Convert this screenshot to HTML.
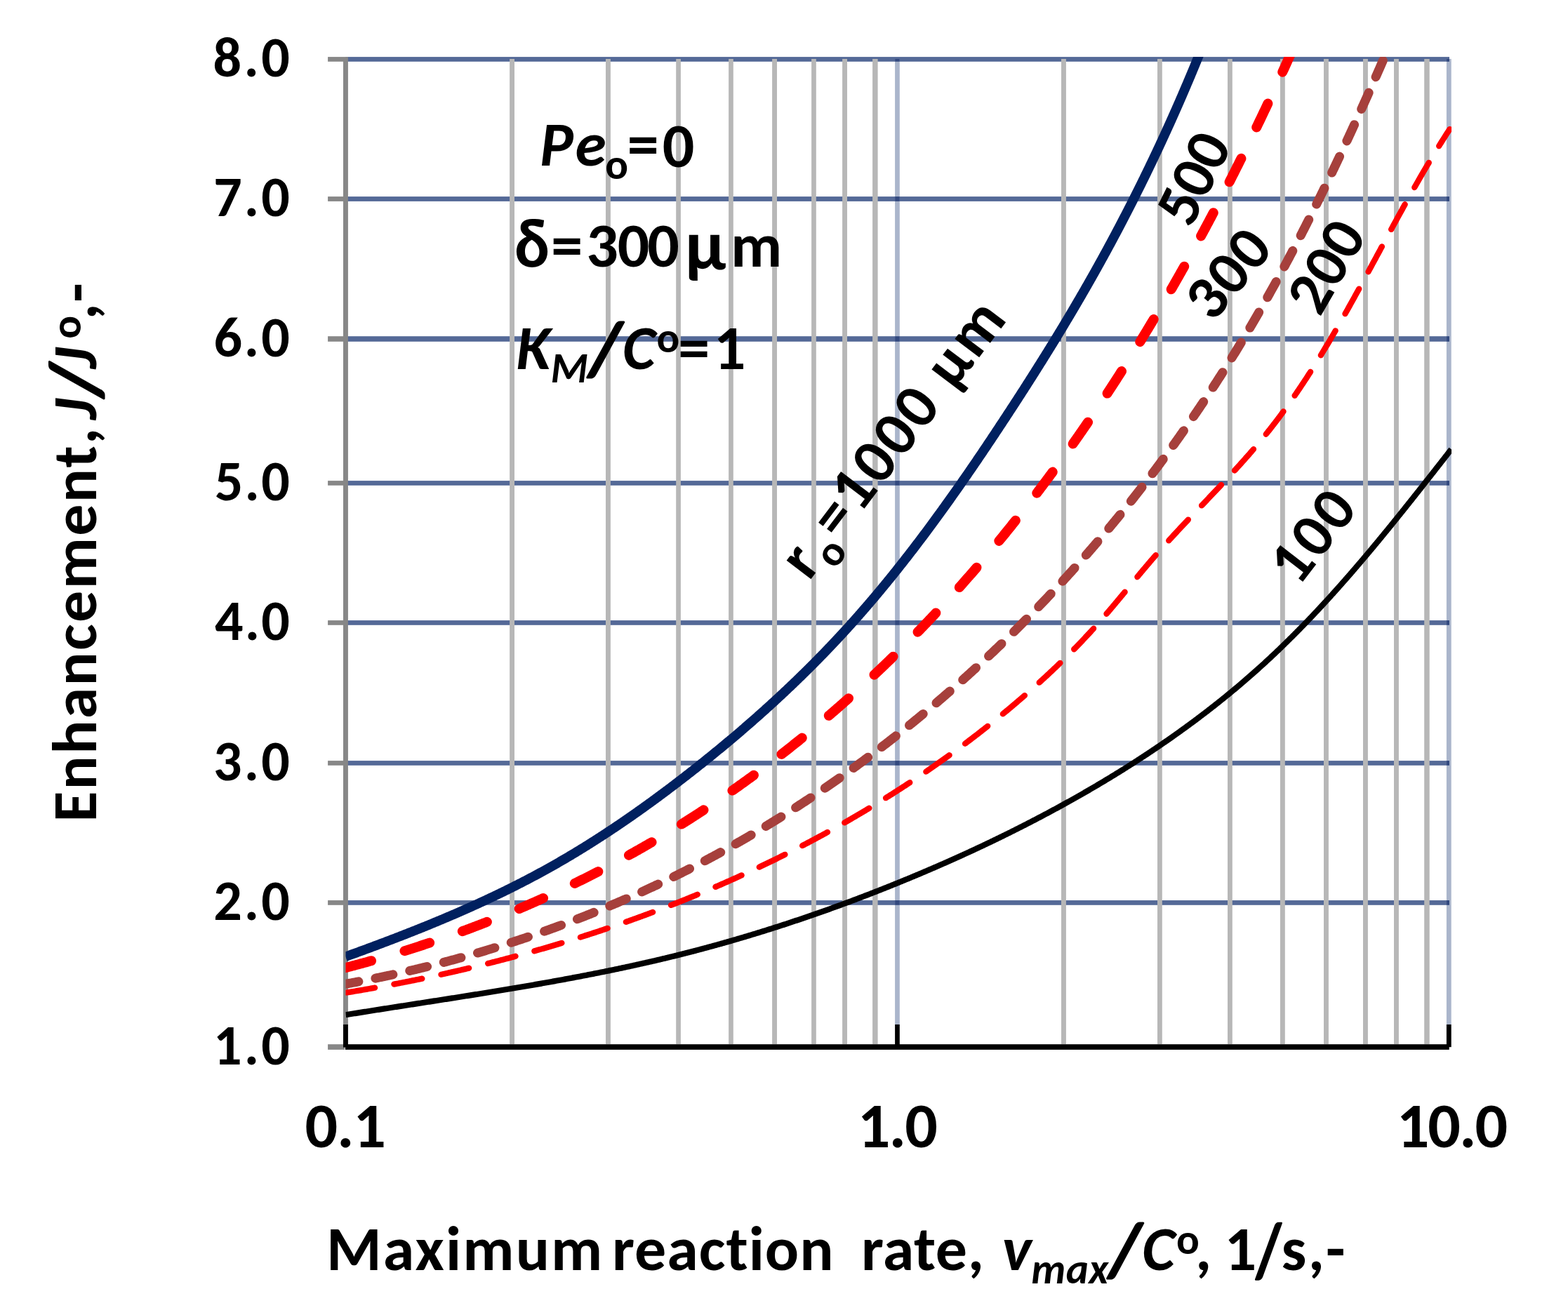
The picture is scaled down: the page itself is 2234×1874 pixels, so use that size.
<!DOCTYPE html><html><head><meta charset="utf-8"><title>Enhancement chart</title>
<style>html,body{margin:0;padding:0;background:#fff;overflow:hidden}svg{display:block}text{font-family:Carlito, 'Liberation Sans', sans-serif;font-weight:bold;fill:#000}</style></head><body>
<svg xmlns="http://www.w3.org/2000/svg" width="2234" height="1874" viewBox="0 0 2234 1874">
<rect width="2234" height="1874" fill="#fff"/>
<defs><clipPath id="pc"><rect x="492.5" y="81.1" width="1575.5" height="1410.9"/></clipPath></defs>
<g id="grid">
<rect x="492.5" y="81.10" width="1572.5" height="6.70" fill="#546997"/>
<rect x="467.1" y="81.10" width="21.9" height="6.70" fill="#878787"/>
<rect x="492.5" y="280.10" width="1572.5" height="6.80" fill="#546997"/>
<rect x="467.1" y="280.10" width="21.9" height="6.80" fill="#878787"/>
<rect x="492.5" y="479.20" width="1572.5" height="7.60" fill="#546997"/>
<rect x="467.1" y="479.20" width="21.9" height="7.60" fill="#878787"/>
<rect x="492.5" y="685.10" width="1572.5" height="6.70" fill="#546997"/>
<rect x="467.1" y="685.10" width="21.9" height="6.70" fill="#878787"/>
<rect x="492.5" y="884.10" width="1572.5" height="6.70" fill="#546997"/>
<rect x="467.1" y="884.10" width="21.9" height="6.70" fill="#878787"/>
<rect x="492.5" y="1084.10" width="1572.5" height="6.70" fill="#546997"/>
<rect x="467.1" y="1084.10" width="21.9" height="6.70" fill="#878787"/>
<rect x="492.5" y="1283.05" width="1572.5" height="6.75" fill="#546997"/>
<rect x="467.1" y="1283.05" width="21.9" height="6.75" fill="#878787"/>
<rect x="467.1" y="1488.20" width="23.9" height="7.70" fill="#878787"/>
<rect x="726.10" y="84" width="6.90" height="1404.2" fill="#b7b7b7"/>
<rect x="863.00" y="84" width="6.90" height="1404.2" fill="#b7b7b7"/>
<rect x="963.20" y="84" width="6.70" height="1404.2" fill="#b7b7b7"/>
<rect x="1038.10" y="84" width="6.70" height="1404.2" fill="#b7b7b7"/>
<rect x="1100.10" y="84" width="6.90" height="1404.2" fill="#b7b7b7"/>
<rect x="1156.10" y="84" width="6.70" height="1404.2" fill="#b7b7b7"/>
<rect x="1200.10" y="84" width="6.90" height="1404.2" fill="#b7b7b7"/>
<rect x="1243.10" y="84" width="7.50" height="1404.2" fill="#b7b7b7"/>
<rect x="1512.00" y="84" width="6.90" height="1404.2" fill="#b7b7b7"/>
<rect x="1649.00" y="84" width="6.80" height="1404.2" fill="#b7b7b7"/>
<rect x="1749.00" y="84" width="6.80" height="1404.2" fill="#b7b7b7"/>
<rect x="1823.90" y="84" width="6.90" height="1404.2" fill="#b7b7b7"/>
<rect x="1886.00" y="84" width="6.90" height="1404.2" fill="#b7b7b7"/>
<rect x="1942.00" y="84" width="6.90" height="1404.2" fill="#b7b7b7"/>
<rect x="1986.00" y="84" width="6.90" height="1404.2" fill="#b7b7b7"/>
<rect x="2029.20" y="84" width="7.50" height="1404.2" fill="#b7b7b7"/>
<rect x="1275.10" y="84" width="6.70" height="1376.0" fill="#aab5cb"/>
<rect x="1275.10" y="84.00" width="6.70" height="3.80" fill="#32497f"/>
<rect x="1275.10" y="280.10" width="6.70" height="6.80" fill="#32497f"/>
<rect x="1275.10" y="479.20" width="6.70" height="7.60" fill="#32497f"/>
<rect x="1275.10" y="685.10" width="6.70" height="6.70" fill="#32497f"/>
<rect x="1275.10" y="884.10" width="6.70" height="6.70" fill="#32497f"/>
<rect x="1275.10" y="1084.10" width="6.70" height="6.70" fill="#32497f"/>
<rect x="1275.10" y="1283.05" width="6.70" height="6.75" fill="#32497f"/>
<rect x="1275.10" y="1460" width="6.70" height="32.2" fill="#000"/>
<rect x="2060.90" y="84" width="6.80" height="1376.0" fill="#aab5cb"/>
<rect x="2060.90" y="84.00" width="4.10" height="3.80" fill="#32497f"/>
<rect x="2060.90" y="280.10" width="4.10" height="6.80" fill="#32497f"/>
<rect x="2060.90" y="479.20" width="4.10" height="7.60" fill="#32497f"/>
<rect x="2060.90" y="685.10" width="4.10" height="6.70" fill="#32497f"/>
<rect x="2060.90" y="884.10" width="4.10" height="6.70" fill="#32497f"/>
<rect x="2060.90" y="1084.10" width="4.10" height="6.70" fill="#32497f"/>
<rect x="2060.90" y="1283.05" width="4.10" height="6.75" fill="#32497f"/>
<rect x="2060.90" y="1460" width="6.80" height="32.2" fill="#000"/>
<rect x="489.00" y="81.1" width="6.90" height="1378.9" fill="#878787"/>
<rect x="489.00" y="1460" width="6.90" height="32.6" fill="#000"/>
<rect x="491.9" y="1488.20" width="1572.8" height="7.70" fill="#000"/>
</g>
<g clip-path="url(#pc)" fill="none">
<path d="M492.34 1363.33L493.79 1362.81L495.24 1362.28L496.69 1361.76L498.14 1361.23L499.59 1360.71L501.04 1360.18L502.49 1359.65L503.94 1359.12L505.39 1358.60L506.84 1358.07L508.29 1357.54L509.74 1357.01L511.19 1356.48L512.64 1355.95L514.09 1355.41L515.54 1354.88L516.99 1354.35L518.44 1353.82L519.89 1353.28L521.34 1352.75L522.79 1352.21L524.24 1351.67L525.68 1351.14L527.13 1350.60L528.58 1350.06L530.03 1349.52L531.48 1348.98L532.93 1348.44L534.37 1347.90L535.82 1347.36L537.27 1346.82L538.71 1346.28L540.16 1345.73L541.61 1345.19L543.05 1344.65L544.50 1344.10L545.95 1343.55L547.39 1343.01L548.84 1342.46L550.28 1341.91L551.73 1341.36L553.17 1340.81L554.62 1340.26L556.06 1339.71L557.51 1339.16L558.95 1338.61L560.39 1338.05L561.84 1337.50L563.28 1336.94L564.72 1336.39L566.16 1335.83L567.61 1335.27L569.05 1334.71L570.49 1334.15L571.93 1333.59L573.37 1333.03L574.81 1332.47L576.25 1331.91L577.69 1331.35L579.13 1330.78L580.57 1330.22L582.01 1329.65L583.45 1329.08L584.89 1328.52L586.33 1327.95L587.76 1327.38L589.20 1326.81L590.64 1326.24L592.08 1325.66L593.51 1325.09L594.95 1324.52L596.38 1323.94L597.82 1323.37L599.25 1322.79L600.69 1322.21L602.12 1321.63L603.56 1321.05L604.99 1320.47L606.42 1319.89L607.85 1319.31L609.29 1318.72L610.72 1318.14L612.15 1317.55L613.58 1316.97L615.01 1316.38L616.44 1315.79L617.87 1315.20L619.30 1314.61L620.73 1314.02L622.15 1313.43L623.58 1312.83L625.01 1312.24L626.44 1311.64L627.86 1311.05L629.29 1310.45L630.71 1309.85L632.14 1309.25L633.56 1308.65L634.99 1308.05L636.41 1307.44L637.83 1306.84L639.25 1306.23L640.68 1305.63L642.10 1305.02L643.52 1304.41L644.94 1303.80L646.36 1303.19L647.78 1302.58L649.20 1301.96L650.61 1301.35L652.03 1300.73L653.45 1300.12L654.86 1299.50L656.28 1298.88L657.70 1298.26L659.11 1297.64L660.52 1297.02L661.94 1296.39L663.35 1295.77L664.76 1295.14L666.17 1294.51L667.59 1293.89L669.00 1293.26L670.41 1292.62L671.82 1291.99L673.22 1291.36L674.63 1290.72L676.04 1290.09L677.45 1289.45L678.85 1288.81L680.26 1288.17L681.66 1287.53L683.07 1286.89L684.47 1286.24L685.87 1285.60L687.28 1284.95L688.68 1284.30L690.08 1283.66L691.48 1283.00L692.88 1282.35L694.28 1281.70L695.68 1281.05L697.07 1280.39L698.47 1279.73L699.87 1279.07L701.26 1278.42L702.66 1277.75L704.05 1277.09L705.44 1276.43L706.84 1275.76L708.23 1275.10L709.62 1274.43L711.01 1273.76L712.40 1273.09L713.79 1272.41L715.18 1271.74L716.56 1271.07L717.95 1270.39L719.34 1269.71L720.72 1269.03L722.11 1268.35L723.49 1267.67L724.87 1266.98L726.25 1266.30L727.64 1265.61L729.02 1264.92L730.40 1264.23L731.77 1263.54L733.15 1262.85L734.53 1262.16L735.91 1261.46L737.28 1260.76L738.66 1260.06L740.03 1259.36L741.40 1258.66L742.78 1257.96L744.15 1257.25L745.52 1256.55L746.89 1255.84L748.26 1255.13L749.62 1254.42L750.99 1253.71L752.36 1252.99L753.72 1252.28L755.09 1251.56L756.45 1250.84L757.81 1250.12L759.17 1249.40L760.53 1248.67L761.89 1247.95L763.25 1247.22L764.61 1246.49L765.97 1245.76L767.33 1245.03L768.68 1244.29L770.04 1243.56L771.39 1242.82L772.74 1242.08L774.09 1241.34L775.44 1240.60L776.79 1239.86L778.14 1239.11L779.49 1238.36L780.84 1237.61L782.18 1236.86L783.53 1236.11L784.87 1235.36L786.21 1234.60L787.56 1233.84L788.90 1233.08L790.24 1232.32L791.58 1231.56L792.91 1230.80L794.25 1230.03L795.59 1229.26L796.92 1228.49L798.26 1227.72L799.59 1226.95L800.92 1226.18L802.25 1225.40L803.59 1224.62L804.91 1223.85L806.24 1223.07L807.57 1222.28L808.90 1221.50L810.22 1220.71L811.55 1219.93L812.87 1219.14L814.20 1218.35L815.52 1217.56L816.84 1216.76L818.16 1215.97L819.48 1215.17L820.80 1214.38L822.12 1213.58L823.43 1212.78L824.75 1211.97L826.06 1211.17L827.38 1210.36L828.69 1209.56L830.00 1208.75L831.32 1207.94L832.63 1207.13L833.94 1206.31L835.25 1205.50L836.55 1204.68L837.86 1203.87L839.17 1203.05L840.47 1202.23L841.78 1201.40L843.08 1200.58L844.38 1199.76L845.68 1198.93L846.99 1198.10L848.29 1197.27L849.58 1196.44L850.88 1195.61L852.18 1194.78L853.48 1193.94L854.77 1193.11L856.07 1192.27L857.36 1191.43L858.66 1190.59L859.95 1189.75L861.24 1188.90L862.53 1188.06L863.82 1187.21L865.11 1186.36L866.40 1185.52L867.68 1184.67L868.97 1183.81L870.26 1182.96L871.54 1182.11L872.83 1181.25L874.11 1180.39L875.39 1179.54L876.67 1178.68L877.95 1177.82L879.23 1176.95L880.51 1176.09L881.79 1175.23L883.07 1174.36L884.34 1173.49L885.62 1172.62L886.90 1171.75L888.17 1170.88L889.44 1170.01L890.72 1169.14L891.99 1168.26L893.26 1167.38L894.53 1166.51L895.80 1165.63L897.07 1164.75L898.34 1163.87L899.60 1162.98L900.87 1162.10L902.13 1161.22L903.40 1160.33L904.66 1159.44L905.93 1158.55L907.19 1157.66L908.45 1156.77L909.71 1155.88L910.97 1154.99L912.23 1154.09L913.49 1153.20L914.75 1152.30L916.01 1151.40L917.26 1150.50L918.52 1149.60L919.77 1148.70L921.03 1147.80L922.28 1146.89L923.53 1145.99L924.78 1145.08L926.04 1144.18L927.29 1143.27L928.54 1142.36L929.78 1141.45L931.03 1140.54L932.28 1139.62L933.53 1138.71L934.77 1137.80L936.02 1136.88L937.26 1135.96L938.51 1135.04L939.75 1134.13L940.99 1133.20L942.23 1132.28L943.47 1131.36L944.71 1130.44L945.95 1129.51L947.19 1128.59L948.43 1127.66L949.67 1126.73L950.91 1125.81L952.14 1124.88L953.38 1123.95L954.61 1123.01L955.85 1122.08L957.08 1121.15L958.31 1120.21L959.54 1119.28L960.77 1118.34L962.01 1117.40L963.24 1116.47L964.46 1115.53L965.69 1114.59L966.92 1113.65L968.15 1112.70L969.37 1111.76L970.60 1110.82L971.83 1109.87L973.05 1108.93L974.27 1107.98L975.50 1107.03L976.72 1106.08L977.94 1105.13L979.16 1104.18L980.38 1103.23L981.60 1102.28L982.82 1101.33L984.04 1100.37L985.26 1099.42L986.48 1098.46L987.69 1097.51L988.91 1096.55L990.12 1095.59L991.34 1094.63L992.55 1093.67L993.77 1092.71L994.98 1091.75L996.19 1090.79L997.40 1089.82L998.61 1088.86L999.82 1087.89L1001.03 1086.93L1002.24 1085.96L1003.45 1084.99L1004.66 1084.02L1005.86 1083.05L1007.07 1082.08L1008.27 1081.11L1009.48 1080.14L1010.68 1079.17L1011.88 1078.19L1013.09 1077.22L1014.29 1076.24L1015.49 1075.26L1016.69 1074.29L1017.89 1073.31L1019.09 1072.33L1020.29 1071.35L1021.48 1070.37L1022.68 1069.39L1023.88 1068.40L1025.07 1067.42L1026.27 1066.43L1027.46 1065.45L1028.65 1064.46L1029.84 1063.47L1031.04 1062.49L1032.23 1061.50L1033.42 1060.51L1034.61 1059.52L1035.79 1058.52L1036.98 1057.53L1038.17 1056.54L1039.35 1055.54L1040.54 1054.55L1041.72 1053.55L1042.91 1052.55L1044.09 1051.56L1045.27 1050.56L1046.46 1049.56L1047.64 1048.56L1048.82 1047.55L1049.99 1046.55L1051.17 1045.55L1052.35 1044.54L1053.53 1043.54L1054.70 1042.53L1055.88 1041.52L1057.05 1040.51L1058.23 1039.51L1059.40 1038.50L1060.57 1037.48L1061.74 1036.47L1062.91 1035.46L1064.08 1034.45L1065.25 1033.43L1066.42 1032.42L1067.58 1031.40L1068.75 1030.38L1069.91 1029.36L1071.08 1028.34L1072.24 1027.32L1073.40 1026.30L1074.57 1025.28L1075.73 1024.26L1076.89 1023.23L1078.04 1022.21L1079.20 1021.18L1080.36 1020.15L1081.52 1019.13L1082.67 1018.10L1083.83 1017.07L1084.98 1016.04L1086.13 1015.01L1087.29 1013.97L1088.44 1012.94L1089.59 1011.91L1090.74 1010.87L1091.88 1009.83L1093.03 1008.80L1094.18 1007.76L1095.32 1006.72L1096.47 1005.68L1097.61 1004.64L1098.76 1003.60L1099.90 1002.55L1101.04 1001.51L1102.18 1000.47L1103.32 999.42L1104.46 998.37L1105.59 997.33L1106.73 996.28L1107.87 995.23L1109.00 994.18L1110.13 993.12L1111.27 992.07L1112.40 991.02L1113.53 989.96L1114.66 988.91L1115.79 987.85L1116.92 986.80L1118.04 985.74L1119.17 984.68L1120.29 983.62L1121.42 982.56L1122.54 981.49L1123.66 980.43L1124.78 979.37L1125.90 978.30L1127.02 977.24L1128.14 976.17L1129.26 975.10L1130.37 974.03L1131.49 972.96L1132.60 971.89L1133.72 970.82L1134.83 969.75L1135.94 968.67L1137.05 967.60L1138.16 966.52L1139.27 965.45L1140.37 964.37L1141.48 963.29L1142.59 962.21L1143.69 961.13L1144.79 960.05L1145.89 958.96L1146.99 957.88L1148.09 956.80L1149.19 955.71L1150.29 954.62L1151.39 953.54L1152.48 952.45L1153.58 951.36L1154.67 950.27L1155.76 949.18L1156.85 948.08L1157.94 946.99L1159.03 945.89L1160.12 944.80L1161.21 943.70L1162.29 942.60L1163.38 941.51L1164.46 940.41L1165.55 939.31L1166.63 938.20L1167.71 937.10L1168.79 936.00L1169.86 934.89L1170.94 933.79L1172.02 932.68L1173.09 931.57L1174.17 930.46L1175.24 929.35L1176.31 928.24L1177.38 927.13L1178.45 926.02L1179.52 924.90L1180.59 923.79L1181.65 922.67L1182.72 921.56L1183.78 920.44L1184.84 919.32L1185.90 918.20L1186.96 917.08L1188.02 915.96L1189.08 914.83L1190.14 913.71L1191.19 912.59L1192.25 911.46L1193.30 910.33L1194.35 909.20L1195.40 908.08L1196.45 906.95L1197.50 905.81L1198.55 904.68L1199.60 903.55L1200.64 902.41L1201.68 901.28L1202.73 900.14L1203.77 899.01L1204.81 897.87L1205.85 896.73L1206.89 895.59L1207.92 894.45L1208.96 893.30L1209.99 892.16L1211.03 891.01L1212.06 889.87L1213.09 888.72L1214.12 887.57L1215.15 886.43L1216.17 885.28L1217.20 884.13L1218.22 882.97L1219.25 881.82L1220.27 880.67L1221.29 879.51L1222.31 878.36L1223.33 877.20L1224.35 876.04L1225.37 874.89L1226.38 873.73L1227.40 872.57L1228.41 871.40L1229.42 870.24L1230.44 869.08L1231.45 867.91L1232.46 866.75L1233.46 865.58L1234.47 864.42L1235.48 863.25L1236.48 862.08L1237.49 860.91L1238.49 859.74L1239.49 858.57L1240.49 857.39L1241.49 856.22L1242.49 855.05L1243.49 853.87L1244.48 852.70L1245.48 851.52L1246.47 850.34L1247.47 849.16L1248.46 847.98L1249.45 846.80L1250.44 845.62L1251.43 844.44L1252.42 843.25L1253.40 842.07L1254.39 840.88L1255.37 839.70L1256.36 838.51L1257.34 837.32L1258.32 836.13L1259.30 834.95L1260.28 833.76L1261.26 832.56L1262.24 831.37L1263.22 830.18L1264.19 828.99L1265.17 827.79L1266.14 826.60L1267.11 825.40L1268.08 824.20L1269.06 823.00L1270.03 821.81L1270.99 820.61L1271.96 819.41L1272.93 818.21L1273.89 817.00L1274.86 815.80L1275.82 814.60L1276.79 813.39L1277.75 812.19L1278.71 810.98L1279.67 809.78L1280.63 808.57L1281.59 807.36L1282.55 806.15L1283.50 804.94L1284.46 803.73L1285.41 802.52L1286.37 801.31L1287.32 800.10L1288.27 798.88L1289.22 797.67L1290.17 796.45L1291.12 795.24L1292.07 794.02L1293.02 792.80L1293.96 791.58L1294.91 790.37L1295.86 789.15L1296.80 787.93L1297.74 786.71L1298.68 785.48L1299.63 784.26L1300.57 783.04L1301.51 781.81L1302.44 780.59L1303.38 779.36L1304.32 778.14L1305.26 776.91L1306.19 775.69L1307.13 774.46L1308.06 773.23L1308.99 772.00L1309.92 770.77L1310.85 769.54L1311.78 768.31L1312.71 767.07L1313.64 765.84L1314.57 764.61L1315.50 763.37L1316.42 762.14L1317.35 760.90L1318.27 759.67L1319.20 758.43L1320.12 757.19L1321.04 755.96L1321.96 754.72L1322.88 753.48L1323.80 752.24L1324.72 751.00L1325.64 749.76L1326.56 748.52L1327.48 747.27L1328.39 746.03L1329.31 744.79L1330.22 743.54L1331.14 742.30L1332.05 741.05L1332.96 739.81L1333.87 738.56L1334.78 737.31L1335.69 736.07L1336.60 734.82L1337.51 733.57L1338.42 732.32L1339.32 731.07L1340.23 729.82L1341.14 728.57L1342.04 727.32L1342.95 726.06L1343.85 724.81L1344.75 723.56L1345.65 722.30L1346.55 721.05L1347.46 719.79L1348.35 718.54L1349.25 717.28L1350.15 716.03L1351.05 714.77L1351.95 713.51L1352.84 712.25L1353.74 710.99L1354.63 709.73L1355.53 708.47L1356.42 707.21L1357.32 705.95L1358.21 704.69L1359.10 703.43L1359.99 702.17L1360.88 700.90L1361.77 699.64L1362.66 698.38L1363.55 697.11L1364.44 695.85L1365.33 694.58L1366.21 693.32L1367.10 692.05L1367.98 690.78L1368.87 689.52L1369.75 688.25L1370.64 686.98L1371.52 685.71L1372.40 684.44L1373.28 683.17L1374.16 681.91L1375.05 680.63L1375.93 679.36L1376.80 678.09L1377.68 676.82L1378.56 675.55L1379.44 674.28L1380.32 673.00L1381.19 671.73L1382.07 670.46L1382.94 669.18L1383.82 667.91L1384.69 666.63L1385.57 665.36L1386.44 664.08L1387.31 662.81L1388.19 661.53L1389.06 660.25L1389.93 658.98L1390.80 657.70L1391.67 656.42L1392.54 655.14L1393.41 653.86L1394.28 652.58L1395.14 651.30L1396.01 650.02L1396.88 648.74L1397.74 647.46L1398.61 646.18L1399.47 644.90L1400.34 643.62L1401.20 642.34L1402.07 641.06L1402.93 639.77L1403.79 638.49L1404.66 637.21L1405.52 635.92L1406.38 634.64L1407.24 633.35L1408.10 632.07L1408.96 630.78L1409.82 629.50L1410.68 628.21L1411.54 626.93L1412.40 625.64L1413.26 624.36L1414.11 623.07L1414.97 621.78L1415.83 620.49L1416.68 619.21L1417.54 617.92L1418.39 616.63L1419.25 615.34L1420.10 614.05L1420.96 612.76L1421.81 611.48L1422.66 610.19L1423.51 608.90L1424.37 607.61L1425.22 606.32L1426.07 605.03L1426.92 603.73L1427.77 602.44L1428.62 601.15L1429.47 599.86L1430.32 598.57L1431.17 597.28L1432.02 595.99L1432.87 594.69L1433.72 593.40L1434.56 592.11L1435.41 590.81L1436.26 589.52L1437.10 588.23L1437.95 586.93L1438.80 585.64L1439.64 584.35L1440.49 583.05L1441.33 581.76L1442.17 580.46L1443.02 579.17L1443.86 577.87L1444.70 576.57L1445.55 575.28L1446.39 573.98L1447.23 572.69L1448.07 571.39L1448.91 570.09L1449.75 568.79L1450.59 567.50L1451.43 566.20L1452.27 564.90L1453.11 563.60L1453.94 562.30L1454.78 561.01L1455.62 559.71L1456.45 558.41L1457.29 557.11L1458.13 555.81L1458.96 554.51L1459.80 553.21L1460.63 551.90L1461.46 550.60L1462.30 549.30L1463.13 548.00L1463.96 546.70L1464.79 545.40L1465.62 544.09L1466.46 542.79L1467.29 541.49L1468.12 540.18L1468.94 538.88L1469.77 537.58L1470.60 536.27L1471.43 534.97L1472.26 533.66L1473.08 532.36L1473.91 531.05L1474.73 529.75L1475.56 528.44L1476.38 527.13L1477.21 525.83L1478.03 524.52L1478.86 523.21L1479.68 521.91L1480.50 520.60L1481.32 519.29L1482.14 517.98L1482.96 516.67L1483.78 515.36L1484.60 514.05L1485.42 512.74L1486.24 511.43L1487.06 510.12L1487.87 508.81L1488.69 507.50L1489.50 506.19L1490.32 504.88L1491.13 503.57L1491.95 502.25L1492.76 500.94L1493.58 499.63L1494.39 498.31L1495.20 497.00L1496.01 495.69L1496.82 494.37L1497.63 493.06L1498.44 491.74L1499.25 490.43L1500.06 489.11L1500.87 487.79L1501.67 486.48L1502.48 485.16L1503.29 483.84L1504.09 482.53L1504.90 481.21L1505.70 479.89L1506.50 478.57L1507.31 477.25L1508.11 475.93L1508.91 474.61L1509.71 473.29L1510.51 471.97L1511.31 470.65L1512.11 469.33L1512.91 468.01L1513.71 466.69L1514.50 465.37L1515.30 464.04L1516.10 462.72L1516.89 461.40L1517.68 460.07L1518.48 458.75L1519.27 457.42L1520.06 456.10L1520.86 454.77L1521.65 453.45L1522.44 452.12L1523.23 450.80L1524.02 449.47L1524.81 448.14L1525.59 446.82L1526.38 445.49L1527.17 444.16L1527.95 442.83L1528.74 441.50L1529.52 440.17L1530.31 438.84L1531.09 437.51L1531.87 436.18L1532.65 434.85L1533.43 433.52L1534.21 432.19L1534.99 430.86L1535.77 429.52L1536.55 428.19L1537.33 426.86L1538.10 425.52L1538.88 424.19L1539.65 422.85L1540.43 421.52L1541.20 420.18L1541.98 418.85L1542.75 417.51L1543.52 416.17L1544.29 414.84L1545.06 413.50L1545.83 412.16L1546.60 410.82L1547.37 409.48L1548.13 408.15L1548.90 406.81L1549.66 405.47L1550.43 404.13L1551.19 402.78L1551.96 401.44L1552.72 400.10L1553.48 398.76L1554.24 397.42L1555.00 396.07L1555.76 394.73L1556.52 393.39L1557.28 392.04L1558.03 390.70L1558.79 389.35L1559.55 388.01L1560.30 386.66L1561.05 385.31L1561.81 383.97L1562.56 382.62L1563.31 381.27L1564.06 379.92L1564.81 378.57L1565.56 377.22L1566.31 375.88L1567.06 374.53L1567.80 373.18L1568.55 371.82L1569.30 370.47L1570.04 369.12L1570.78 367.77L1571.53 366.42L1572.27 365.06L1573.01 363.71L1573.75 362.36L1574.49 361.00L1575.23 359.65L1575.97 358.29L1576.71 356.94L1577.44 355.58L1578.18 354.23L1578.91 352.87L1579.65 351.51L1580.38 350.15L1581.12 348.80L1581.85 347.44L1582.58 346.08L1583.31 344.72L1584.04 343.36L1584.77 342.00L1585.50 340.64L1586.22 339.28L1586.95 337.92L1587.68 336.55L1588.40 335.19L1589.13 333.83L1589.85 332.47L1590.57 331.10L1591.30 329.74L1592.02 328.38L1592.74 327.01L1593.46 325.65L1594.18 324.28L1594.89 322.91L1595.61 321.55L1596.33 320.18L1597.04 318.81L1597.76 317.45L1598.47 316.08L1599.19 314.71L1599.90 313.34L1600.61 311.97L1601.32 310.60L1602.03 309.23L1602.74 307.86L1603.45 306.49L1604.16 305.12L1604.87 303.75L1605.57 302.38L1606.28 301.00L1606.99 299.63L1607.69 298.26L1608.39 296.88L1609.10 295.51L1609.80 294.14L1610.50 292.76L1611.20 291.39L1611.90 290.01L1612.60 288.63L1613.30 287.26L1613.99 285.88L1614.69 284.50L1615.39 283.13L1616.08 281.75L1616.77 280.37L1617.47 278.99L1618.16 277.61L1618.85 276.23L1619.54 274.85L1620.23 273.47L1620.92 272.09L1621.61 270.71L1622.30 269.33L1622.99 267.94L1623.67 266.56L1624.36 265.18L1625.04 263.80L1625.73 262.41L1626.41 261.03L1627.09 259.64L1627.77 258.26L1628.46 256.87L1629.14 255.49L1629.82 254.10L1630.49 252.71L1631.17 251.33L1631.85 249.94L1632.52 248.55L1633.20 247.16L1633.87 245.78L1634.55 244.39L1635.22 243.00L1635.89 241.61L1636.57 240.22L1637.24 238.83L1637.91 237.44L1638.58 236.05L1639.24 234.65L1639.91 233.26L1640.58 231.87L1641.25 230.48L1641.91 229.08L1642.58 227.69L1643.24 226.30L1643.90 224.90L1644.56 223.51L1645.23 222.11L1645.89 220.72L1646.55 219.32L1647.21 217.92L1647.86 216.53L1648.52 215.13L1649.18 213.73L1649.83 212.34L1650.49 210.94L1651.14 209.54L1651.80 208.14L1652.45 206.74L1653.10 205.34L1653.75 203.94L1654.40 202.54L1655.05 201.14L1655.70 199.74L1656.35 198.34L1657.00 196.94L1657.65 195.53L1658.29 194.13L1658.94 192.73L1659.58 191.32L1660.22 189.92L1660.87 188.52L1661.51 187.11L1662.15 185.71L1662.79 184.30L1663.43 182.90L1664.07 181.49L1664.71 180.08L1665.34 178.68L1665.98 177.27L1666.62 175.86L1667.25 174.45L1667.89 173.04L1668.52 171.64L1669.15 170.23L1669.78 168.82L1670.41 167.41L1671.04 166.00L1671.67 164.59L1672.30 163.18L1672.93 161.76L1673.56 160.35L1674.18 158.94L1674.81 157.53L1675.43 156.12L1676.06 154.70L1676.68 153.29L1677.30 151.87L1677.93 150.46L1678.55 149.05L1679.17 147.63L1679.79 146.22L1680.40 144.80L1681.02 143.38L1681.64 141.97L1682.26 140.55L1682.87 139.13L1683.49 137.72L1684.10 136.30L1684.71 134.88L1685.32 133.46L1685.94 132.04L1686.55 130.62L1687.16 129.20L1687.77 127.78L1688.37 126.36L1688.98 124.94L1689.59 123.52L1690.19 122.10L1690.80 120.68L1691.40 119.25L1692.01 117.83L1692.61 116.41L1693.21 114.98L1693.81 113.56L1694.41 112.14L1695.01 110.71L1695.61 109.29L1696.21 107.86L1696.81 106.44L1697.41 105.01L1698.00 103.58L1698.60 102.16L1699.19 100.73L1699.78 99.30L1700.38 97.88L1700.97 96.45L1701.56 95.02L1702.15 93.59L1702.74 92.16L1703.33 90.73L1703.92 89.30L1704.50 87.87L1705.09 86.44L1705.68 85.01L1706.26 83.58L1706.85 82.15L1707.43 80.72L1708.01 79.29L1708.59 77.85L1709.17 76.42L1709.75 74.99L1710.33 73.55L1710.91 72.12L1711.49 70.68L1712.07 69.25L1712.64 67.82L1713.22 66.38L1713.79 64.94L1714.37 63.51L1714.94 62.07L1715.51 60.63L1716.09 59.20L1716.66 57.76L1717.23 56.32L1717.80 54.88" stroke="#00205f" stroke-width="13.50" stroke-linecap="butt" stroke-linejoin="round"/>
<path d="M492.02 1402.37L493.75 1402.06L495.48 1401.74L497.21 1401.43L498.94 1401.11L500.67 1400.79L502.40 1400.47L504.13 1400.15L505.85 1399.83L507.58 1399.50L509.31 1399.18L511.04 1398.85L512.76 1398.52L514.49 1398.19L516.22 1397.85L517.94 1397.52L519.67 1397.18L521.39 1396.84L523.12 1396.50L524.84 1396.16L526.56 1395.82L528.29 1395.47L530.01 1395.13L531.73 1394.78L533.45 1394.43L535.18 1394.08L536.90 1393.72L538.62 1393.37L540.34 1393.01L542.06 1392.65L543.78 1392.29L545.50 1391.93L547.22 1391.57L548.94 1391.20L550.66 1390.84L552.37 1390.47L554.09 1390.10L555.81 1389.73L557.53 1389.36L559.24 1388.98L560.96 1388.60L562.67 1388.23L564.39 1387.85L566.10 1387.47L567.82 1387.08L569.53 1386.70L571.24 1386.31L572.96 1385.92L574.67 1385.53L576.38 1385.14L578.09 1384.75L579.81 1384.35L581.52 1383.96L583.23 1383.56L584.94 1383.16L586.65 1382.76L588.36 1382.36L590.07 1381.95L591.77 1381.55L593.48 1381.14L595.19 1380.73L596.90 1380.32L598.60 1379.90L600.31 1379.49L602.02 1379.07L603.72 1378.66L605.43 1378.24L607.13 1377.82L608.83 1377.39L610.54 1376.97L612.24 1376.54L613.94 1376.11L615.65 1375.69L617.35 1375.25L619.05 1374.82L620.75 1374.39L622.45 1373.95L624.15 1373.51L625.85 1373.07L627.55 1372.63L629.25 1372.19L630.94 1371.75L632.64 1371.30L634.34 1370.85L636.04 1370.40L637.73 1369.95L639.43 1369.50L641.12 1369.05L642.82 1368.59L644.51 1368.13L646.21 1367.68L647.90 1367.21L649.59 1366.75L651.28 1366.29L652.98 1365.82L654.67 1365.35L656.36 1364.89L658.05 1364.42L659.74 1363.94L661.43 1363.47L663.12 1362.99L664.80 1362.52L666.49 1362.04L668.18 1361.56L669.87 1361.07L671.55 1360.59L673.24 1360.11L674.92 1359.62L676.61 1359.13L678.29 1358.64L679.98 1358.15L681.66 1357.65L683.34 1357.16L685.03 1356.66L686.71 1356.16L688.39 1355.66L690.07 1355.16L691.75 1354.66L693.43 1354.15L695.11 1353.64L696.79 1353.14L698.46 1352.63L700.14 1352.11L701.82 1351.60L703.50 1351.09L705.17 1350.57L706.85 1350.05L708.52 1349.53L710.20 1349.01L711.87 1348.48L713.54 1347.96L715.22 1347.43L716.89 1346.90L718.56 1346.37L720.23 1345.84L721.90 1345.31L723.57 1344.78L725.24 1344.24L726.91 1343.70L728.58 1343.16L730.24 1342.62L731.91 1342.08L733.58 1341.53L735.24 1340.98L736.91 1340.44L738.57 1339.89L740.24 1339.34L741.90 1338.78L743.56 1338.23L745.23 1337.67L746.89 1337.11L748.55 1336.55L750.21 1335.99L751.87 1335.43L753.53 1334.87L755.19 1334.30L756.85 1333.73L758.51 1333.16L760.16 1332.59L761.82 1332.02L763.48 1331.44L765.13 1330.87L766.79 1330.29L768.44 1329.71L770.10 1329.13L771.75 1328.55L773.40 1327.96L775.05 1327.38L776.70 1326.79L778.35 1326.20L780.00 1325.61L781.65 1325.02L783.30 1324.42L784.95 1323.83L786.60 1323.23L788.25 1322.63L789.89 1322.03L791.54 1321.43L793.18 1320.82L794.83 1320.22L796.47 1319.61L798.12 1319.00L799.76 1318.39L801.40 1317.78L803.04 1317.17L804.68 1316.55L806.32 1315.93L807.96 1315.31L809.60 1314.69L811.24 1314.07L812.88 1313.45L814.51 1312.82L816.15 1312.20L817.79 1311.57L819.42 1310.94L821.05 1310.31L822.69 1309.67L824.32 1309.04L825.95 1308.40L827.59 1307.76L829.22 1307.12L830.85 1306.48L832.48 1305.84L834.11 1305.19L835.73 1304.55L837.36 1303.90L838.99 1303.25L840.62 1302.60L842.24 1301.94L843.87 1301.29L845.49 1300.63L847.12 1299.97L848.74 1299.31L850.36 1298.65L851.98 1297.99L853.60 1297.32L855.22 1296.66L856.84 1295.99L858.46 1295.32L860.08 1294.65L861.70 1293.98L863.32 1293.30L864.93 1292.63L866.55 1291.95L868.16 1291.27L869.78 1290.59L871.39 1289.90L873.00 1289.22L874.62 1288.53L876.23 1287.85L877.84 1287.16L879.45 1286.47L881.06 1285.77L882.67 1285.08L884.27 1284.38L885.88 1283.69L887.49 1282.99L889.09 1282.29L890.70 1281.58L892.30 1280.88L893.91 1280.18L895.51 1279.47L897.11 1278.76L898.71 1278.05L900.31 1277.34L901.91 1276.62L903.51 1275.91L905.11 1275.19L906.71 1274.47L908.31 1273.75L909.90 1273.03L911.50 1272.31L913.09 1271.58L914.69 1270.85L916.28 1270.13L917.87 1269.40L919.47 1268.66L921.06 1267.93L922.65 1267.20L924.24 1266.46L925.83 1265.72L927.41 1264.98L929.00 1264.24L930.59 1263.50L932.17 1262.75L933.76 1262.00L935.34 1261.26L936.93 1260.51L938.51 1259.75L940.09 1259.00L941.67 1258.25L943.25 1257.49L944.83 1256.73L946.41 1255.97L947.99 1255.21L949.57 1254.45L951.15 1253.69L952.72 1252.92L954.30 1252.15L955.87 1251.38L957.45 1250.61L959.02 1249.84L960.59 1249.06L962.16 1248.29L963.73 1247.51L965.30 1246.73L966.87 1245.95L968.44 1245.17L970.01 1244.38L971.57 1243.60L973.14 1242.81L974.70 1242.02L976.27 1241.23L977.83 1240.44L979.39 1239.65L980.96 1238.85L982.52 1238.05L984.08 1237.25L985.64 1236.45L987.19 1235.65L988.75 1234.85L990.31 1234.04L991.87 1233.24L993.42 1232.43L994.97 1231.62L996.53 1230.81L998.08 1229.99L999.63 1229.18L1001.18 1228.36L1002.73 1227.54L1004.28 1226.72L1005.83 1225.90L1007.38 1225.08L1008.93 1224.25L1010.47 1223.43L1012.02 1222.60L1013.56 1221.77L1015.11 1220.94L1016.65 1220.11L1018.19 1219.27L1019.73 1218.44L1021.27 1217.60L1022.81 1216.76L1024.35 1215.92L1025.89 1215.08L1027.43 1214.23L1028.96 1213.39L1030.50 1212.54L1032.03 1211.69L1033.57 1210.84L1035.10 1209.99L1036.63 1209.14L1038.16 1208.28L1039.69 1207.43L1041.22 1206.57L1042.75 1205.71L1044.28 1204.85L1045.81 1203.98L1047.33 1203.12L1048.86 1202.25L1050.38 1201.39L1051.91 1200.52L1053.43 1199.65L1054.95 1198.77L1056.47 1197.90L1057.99 1197.03L1059.51 1196.15L1061.03 1195.27L1062.55 1194.39L1064.07 1193.51L1065.58 1192.63L1067.10 1191.74L1068.61 1190.86L1070.12 1189.97L1071.64 1189.08L1073.15 1188.19L1074.66 1187.30L1076.17 1186.40L1077.68 1185.51L1079.19 1184.61L1080.69 1183.71L1082.20 1182.81L1083.71 1181.91L1085.21 1181.01L1086.71 1180.10L1088.22 1179.20L1089.72 1178.29L1091.22 1177.38L1092.72 1176.47L1094.22 1175.56L1095.72 1174.65L1097.22 1173.73L1098.71 1172.81L1100.21 1171.90L1101.70 1170.98L1103.20 1170.06L1104.69 1169.13L1106.18 1168.21L1107.68 1167.28L1109.17 1166.36L1110.66 1165.43L1112.15 1164.50L1113.63 1163.57L1115.12 1162.63L1116.61 1161.70L1118.09 1160.76L1119.58 1159.83L1121.06 1158.89L1122.54 1157.95L1124.03 1157.01L1125.51 1156.06L1126.99 1155.12L1128.47 1154.17L1129.94 1153.23L1131.42 1152.28L1132.90 1151.33L1134.37 1150.37L1135.85 1149.42L1137.32 1148.47L1138.79 1147.51L1140.27 1146.55L1141.74 1145.59L1143.21 1144.63L1144.68 1143.67L1146.15 1142.71L1147.61 1141.74L1149.08 1140.78L1150.55 1139.81L1152.01 1138.84L1153.47 1137.87L1154.94 1136.90L1156.40 1135.92L1157.86 1134.95L1159.32 1133.97L1160.78 1132.99L1162.24 1132.01L1163.70 1131.03L1165.15 1130.05L1166.61 1129.07L1168.06 1128.08L1169.52 1127.10L1170.97 1126.11L1172.42 1125.12L1173.87 1124.13L1175.32 1123.14L1176.77 1122.15L1178.22 1121.15L1179.67 1120.15L1181.11 1119.16L1182.56 1118.16L1184.00 1117.16L1185.45 1116.16L1186.89 1115.15L1188.33 1114.15L1189.77 1113.14L1191.21 1112.14L1192.65 1111.13L1194.09 1110.12L1195.53 1109.11L1196.96 1108.09L1198.40 1107.08L1199.83 1106.06L1201.27 1105.05L1202.70 1104.03L1204.13 1103.01L1205.56 1101.99L1206.99 1100.97L1208.42 1099.94L1209.85 1098.92L1211.28 1097.89L1212.70 1096.86L1214.13 1095.83L1215.55 1094.80L1216.97 1093.77L1218.40 1092.74L1219.82 1091.70L1221.24 1090.67L1222.66 1089.63L1224.07 1088.59L1225.49 1087.55L1226.91 1086.51L1228.32 1085.47L1229.74 1084.43L1231.15 1083.38L1232.56 1082.33L1233.98 1081.29L1235.39 1080.24L1236.80 1079.19L1238.21 1078.13L1239.61 1077.08L1241.02 1076.03L1242.43 1074.97L1243.83 1073.91L1245.24 1072.86L1246.64 1071.80L1248.04 1070.74L1249.44 1069.67L1250.84 1068.61L1252.24 1067.54L1253.64 1066.48L1255.04 1065.41L1256.43 1064.34L1257.83 1063.27L1259.22 1062.20L1260.62 1061.13L1262.01 1060.05L1263.40 1058.98L1264.79 1057.90L1266.18 1056.82L1267.57 1055.75L1268.96 1054.66L1270.34 1053.58L1271.73 1052.50L1273.11 1051.42L1274.50 1050.33L1275.88 1049.24L1277.26 1048.16L1278.64 1047.07L1280.02 1045.98L1281.40 1044.88L1282.78 1043.79L1284.15 1042.70L1285.53 1041.60L1286.90 1040.50L1288.28 1039.41L1289.65 1038.31L1291.02 1037.21L1292.39 1036.10L1293.76 1035.00L1295.13 1033.90L1296.50 1032.79L1297.87 1031.68L1299.23 1030.58L1300.60 1029.47L1301.96 1028.36L1303.32 1027.24L1304.69 1026.13L1306.05 1025.02L1307.41 1023.90L1308.76 1022.79L1310.12 1021.67L1311.48 1020.55L1312.84 1019.43L1314.19 1018.31L1315.54 1017.18L1316.90 1016.06L1318.25 1014.93L1319.60 1013.81L1320.95 1012.68L1322.30 1011.55L1323.65 1010.42L1324.99 1009.29L1326.34 1008.16L1327.68 1007.02L1329.03 1005.89L1330.37 1004.75L1331.71 1003.62L1333.05 1002.48L1334.39 1001.34L1335.73 1000.20L1337.07 999.06L1338.40 997.91L1339.74 996.77L1341.07 995.62L1342.41 994.48L1343.74 993.33L1345.07 992.18L1346.40 991.03L1347.73 989.88L1349.06 988.72L1350.39 987.57L1351.71 986.42L1353.04 985.26L1354.36 984.10L1355.69 982.94L1357.01 981.78L1358.33 980.62L1359.65 979.46L1360.97 978.30L1362.29 977.13L1363.60 975.97L1364.92 974.80L1366.23 973.64L1367.55 972.47L1368.86 971.30L1370.17 970.13L1371.48 968.95L1372.79 967.78L1374.10 966.61L1375.41 965.43L1376.72 964.25L1378.02 963.08L1379.33 961.90L1380.63 960.72L1381.93 959.54L1383.23 958.35L1384.53 957.17L1385.83 955.98L1387.13 954.80L1388.43 953.61L1389.72 952.42L1391.02 951.24L1392.31 950.05L1393.61 948.85L1394.90 947.66L1396.19 946.47L1397.48 945.27L1398.77 944.08L1400.06 942.88L1401.34 941.68L1402.63 940.48L1403.91 939.28L1405.19 938.08L1406.48 936.88L1407.76 935.68L1409.04 934.47L1410.32 933.27L1411.60 932.06L1412.87 930.85L1414.15 929.65L1415.42 928.44L1416.70 927.22L1417.97 926.01L1419.24 924.80L1420.51 923.59L1421.78 922.37L1423.05 921.15L1424.32 919.94L1425.58 918.72L1426.85 917.50L1428.11 916.28L1429.38 915.06L1430.64 913.83L1431.90 912.61L1433.16 911.39L1434.42 910.16L1435.67 908.93L1436.93 907.71L1438.19 906.48L1439.44 905.25L1440.69 904.02L1441.95 902.78L1443.20 901.55L1444.45 900.32L1445.70 899.08L1446.94 897.85L1448.19 896.61L1449.44 895.37L1450.68 894.13L1451.93 892.89L1453.17 891.65L1454.41 890.41L1455.65 889.16L1456.89 887.92L1458.13 886.67L1459.36 885.43L1460.60 884.18L1461.83 882.93L1463.07 881.68L1464.30 880.43L1465.53 879.18L1466.76 877.93L1467.99 876.67L1469.22 875.42L1470.45 874.16L1471.67 872.90L1472.90 871.65L1474.12 870.39L1475.34 869.13L1476.57 867.87L1477.79 866.60L1479.01 865.34L1480.22 864.08L1481.44 862.81L1482.66 861.55L1483.87 860.28L1485.09 859.01L1486.30 857.74L1487.51 856.47L1488.72 855.20L1489.93 853.93L1491.14 852.66L1492.35 851.38L1493.55 850.11L1494.76 848.83L1495.96 847.56L1497.17 846.28L1498.37 845.00L1499.57 843.72L1500.77 842.44L1501.97 841.16L1503.16 839.87L1504.36 838.59L1505.55 837.31L1506.75 836.02L1507.94 834.73L1509.13 833.45L1510.32 832.16L1511.51 830.87L1512.70 829.58L1513.89 828.29L1515.08 826.99L1516.26 825.70L1517.44 824.41L1518.63 823.11L1519.81 821.81L1520.99 820.52L1522.17 819.22L1523.35 817.92L1524.52 816.62L1525.70 815.32L1526.88 814.02L1528.05 812.71L1529.22 811.41L1530.39 810.10L1531.56 808.80L1532.73 807.49L1533.90 806.18L1535.07 804.87L1536.23 803.56L1537.40 802.25L1538.56 800.94L1539.73 799.63L1540.89 798.32L1542.05 797.00L1543.21 795.69L1544.36 794.37L1545.52 793.05L1546.68 791.73L1547.83 790.41L1548.99 789.09L1550.14 787.77L1551.29 786.45L1552.44 785.13L1553.59 783.81L1554.74 782.48L1555.88 781.15L1557.03 779.83L1558.17 778.50L1559.32 777.17L1560.46 775.84L1561.60 774.51L1562.74 773.18L1563.88 771.85L1565.01 770.52L1566.15 769.18L1567.29 767.85L1568.42 766.51L1569.55 765.18L1570.69 763.84L1571.82 762.50L1572.95 761.16L1574.07 759.82L1575.20 758.48L1576.33 757.14L1577.45 755.79L1578.58 754.45L1579.70 753.11L1580.82 751.76L1581.94 750.41L1583.06 749.07L1584.18 747.72L1585.29 746.37L1586.41 745.02L1587.52 743.67L1588.64 742.32L1589.75 740.96L1590.86 739.61L1591.97 738.26L1593.08 736.90L1594.19 735.54L1595.29 734.19L1596.40 732.83L1597.50 731.47L1598.61 730.11L1599.71 728.75L1600.81 727.39L1601.91 726.03L1603.01 724.66L1604.10 723.30L1605.20 721.93L1606.29 720.57L1607.39 719.20L1608.48 717.83L1609.57 716.47L1610.66 715.10L1611.75 713.73L1612.84 712.36L1613.93 710.98L1615.01 709.61L1616.10 708.24L1617.18 706.86L1618.26 705.49L1619.34 704.11L1620.42 702.74L1621.50 701.36L1622.58 699.98L1623.65 698.60L1624.73 697.22L1625.80 695.84L1626.87 694.46L1627.95 693.07L1629.02 691.69L1630.08 690.31L1631.15 688.92L1632.22 687.53L1633.29 686.15L1634.35 684.76L1635.41 683.37L1636.47 681.98L1637.54 680.59L1638.59 679.20L1639.65 677.81L1640.71 676.42L1641.77 675.02L1642.82 673.63L1643.88 672.23L1644.93 670.84L1645.98 669.44L1647.03 668.04L1648.08 666.64L1649.13 665.24L1650.17 663.84L1651.22 662.44L1652.26 661.04L1653.31 659.64L1654.35 658.24L1655.39 656.83L1656.43 655.43L1657.47 654.02L1658.50 652.62L1659.54 651.21L1660.57 649.80L1661.61 648.39L1662.64 646.98L1663.67 645.57L1664.70 644.16L1665.73 642.75L1666.76 641.34L1667.78 639.92L1668.81 638.51L1669.83 637.09L1670.85 635.68L1671.87 634.26L1672.90 632.84L1673.91 631.42L1674.93 630.00L1675.95 628.58L1676.96 627.16L1677.98 625.74L1678.99 624.32L1680.00 622.90L1681.01 621.47L1682.02 620.05L1683.03 618.62L1684.04 617.20L1685.04 615.77L1686.05 614.34L1687.05 612.92L1688.05 611.49L1689.06 610.06L1690.06 608.63L1691.05 607.19L1692.05 605.76L1693.05 604.33L1694.04 602.90L1695.04 601.46L1696.03 600.03L1697.02 598.59L1698.01 597.15L1699.00 595.72L1699.99 594.28L1700.97 592.84L1701.96 591.40L1702.94 589.96L1703.92 588.52L1704.91 587.08L1705.89 585.63L1706.86 584.19L1707.84 582.75L1708.82 581.30L1709.79 579.86L1710.77 578.41L1711.74 576.96L1712.71 575.52L1713.68 574.07L1714.65 572.62L1715.62 571.17L1716.59 569.72L1717.55 568.27L1718.52 566.82L1719.48 565.36L1720.44 563.91L1721.40 562.46L1722.36 561.00L1723.32 559.54L1724.28 558.09L1725.23 556.63L1726.19 555.17L1727.14 553.72L1728.09 552.26L1729.04 550.80L1729.99 549.34L1730.94 547.87L1731.89 546.41L1732.84 544.95L1733.78 543.49L1734.72 542.02L1735.67 540.56L1736.61 539.09L1737.55 537.63L1738.48 536.16L1739.42 534.69L1740.36 533.22L1741.29 531.76L1742.23 530.29L1743.16 528.82L1744.09 527.34L1745.02 525.87L1745.95 524.40L1746.87 522.93L1747.80 521.45L1748.73 519.98L1749.65 518.50L1750.57 517.03L1751.49 515.55L1752.41 514.08L1753.33 512.60L1754.25 511.12L1755.16 509.64L1756.08 508.16L1756.99 506.68L1757.90 505.20L1758.82 503.72L1759.73 502.24L1760.64 500.75L1761.54 499.27L1762.45 497.78L1763.35 496.30L1764.26 494.81L1765.16 493.33L1766.06 491.84L1766.96 490.35L1767.86 488.87L1768.76 487.38L1769.66 485.89L1770.55 484.40L1771.45 482.91L1772.34 481.41L1773.23 479.92L1774.13 478.43L1775.02 476.94L1775.91 475.44L1776.79 473.95L1777.68 472.45L1778.57 470.96L1779.45 469.46L1780.33 467.96L1781.21 466.47L1782.10 464.97L1782.98 463.47L1783.85 461.97L1784.73 460.47L1785.61 458.97L1786.48 457.47L1787.36 455.97L1788.23 454.46L1789.10 452.96L1789.97 451.46L1790.84 449.95L1791.71 448.45L1792.58 446.94L1793.45 445.43L1794.31 443.93L1795.18 442.42L1796.04 440.91L1796.90 439.40L1797.76 437.89L1798.62 436.38L1799.48 434.87L1800.34 433.36L1801.20 431.85L1802.06 430.34L1802.91 428.83L1803.76 427.31L1804.62 425.80L1805.47 424.29L1806.32 422.77L1807.17 421.26L1808.02 419.74L1808.87 418.22L1809.71 416.71L1810.56 415.19L1811.40 413.67L1812.25 412.15L1813.09 410.63L1813.93 409.11L1814.77 407.59L1815.61 406.07L1816.45 404.55L1817.29 403.02L1818.12 401.50L1818.96 399.98L1819.79 398.45L1820.63 396.93L1821.46 395.40L1822.29 393.88L1823.12 392.35L1823.95 390.83L1824.78 389.30L1825.61 387.77L1826.43 386.24L1827.26 384.71L1828.08 383.18L1828.91 381.65L1829.73 380.12L1830.55 378.59L1831.37 377.06L1832.19 375.53L1833.01 374.00L1833.83 372.46L1834.65 370.93L1835.47 369.40L1836.28 367.86L1837.10 366.33L1837.91 364.79L1838.72 363.25L1839.53 361.72L1840.34 360.18L1841.15 358.64L1841.96 357.10L1842.77 355.57L1843.58 354.03L1844.38 352.49L1845.19 350.95L1846.00 349.40L1846.80 347.86L1847.60 346.32L1848.40 344.78L1849.20 343.24L1850.00 341.69L1850.80 340.15L1851.60 338.61L1852.40 337.06L1853.20 335.52L1853.99 333.97L1854.79 332.42L1855.58 330.88L1856.38 329.33L1857.17 327.78L1857.96 326.23L1858.75 324.69L1859.54 323.14L1860.33 321.59L1861.12 320.04L1861.91 318.49L1862.69 316.94L1863.48 315.38L1864.26 313.83L1865.05 312.28L1865.83 310.73L1866.61 309.17L1867.39 307.62L1868.18 306.07L1868.96 304.51L1869.74 302.96L1870.51 301.40L1871.29 299.84L1872.07 298.29L1872.85 296.73L1873.62 295.17L1874.40 293.62L1875.17 292.06L1875.94 290.50L1876.71 288.94L1877.49 287.38L1878.26 285.82L1879.03 284.26L1879.80 282.70L1880.57 281.14L1881.33 279.58L1882.10 278.01L1882.87 276.45L1883.63 274.89L1884.40 273.33L1885.16 271.76L1885.93 270.20L1886.69 268.63L1887.45 267.07L1888.21 265.50L1888.97 263.94L1889.73 262.37L1890.49 260.80L1891.25 259.24L1892.01 257.67L1892.76 256.10L1893.52 254.53L1894.28 252.96L1895.03 251.39L1895.79 249.82L1896.54 248.25L1897.29 246.68L1898.04 245.11L1898.80 243.54L1899.55 241.97L1900.30 240.40L1901.05 238.83L1901.80 237.25L1902.54 235.68L1903.29 234.11L1904.04 232.53L1904.78 230.96L1905.53 229.38L1906.28 227.81L1907.02 226.23L1907.76 224.66L1908.51 223.08L1909.25 221.51L1909.99 219.93L1910.73 218.35L1911.47 216.77L1912.21 215.20L1912.95 213.62L1913.69 212.04L1914.43 210.46L1915.17 208.88L1915.90 207.30L1916.64 205.72L1917.37 204.14L1918.11 202.56L1918.84 200.98L1919.58 199.40L1920.31 197.81L1921.04 196.23L1921.78 194.65L1922.51 193.07L1923.24 191.48L1923.97 189.90L1924.70 188.32L1925.43 186.73L1926.16 185.15L1926.89 183.56L1927.61 181.98L1928.34 180.39L1929.07 178.80L1929.79 177.22L1930.52 175.63L1931.24 174.04L1931.97 172.46L1932.69 170.87L1933.42 169.28L1934.14 167.69L1934.86 166.11L1935.58 164.52L1936.30 162.93L1937.03 161.34L1937.75 159.75L1938.47 158.16L1939.18 156.57L1939.90 154.98L1940.62 153.39L1941.34 151.79L1942.06 150.20L1942.77 148.61L1943.49 147.02L1944.21 145.43L1944.92 143.83L1945.64 142.24L1946.35 140.65L1947.06 139.05L1947.78 137.46L1948.49 135.86L1949.20 134.27L1949.92 132.67L1950.63 131.08L1951.34 129.48L1952.05 127.89L1952.76 126.29L1953.47 124.70L1954.18 123.10L1954.89 121.50L1955.60 119.91L1956.30 118.31L1957.01 116.71L1957.72 115.11L1958.43 113.51L1959.13 111.92L1959.84 110.32L1960.54 108.72L1961.25 107.12L1961.95 105.52L1962.66 103.92L1963.36 102.32L1964.07 100.72L1964.77 99.12L1965.47 97.52L1966.18 95.92L1966.88 94.32L1967.58 92.71L1968.28 91.11L1968.98 89.51L1969.68 87.91L1970.38 86.31L1971.08 84.70L1971.78 83.10L1972.48 81.50L1973.18 79.89L1973.88 78.29L1974.58 76.69L1975.28 75.08L1975.97 73.48L1976.67 71.87L1977.37 70.27L1978.06 68.66L1978.76 67.06L1979.45 65.45L1980.15 63.85L1980.85 62.24L1981.54 60.63L1982.23 59.03" stroke="#a6403c" stroke-width="13.00" stroke-dasharray="25.5 24.5" stroke-dashoffset="6.31" stroke-linecap="round"/>
<path d="M490.91 1379.48L492.51 1379.06L494.11 1378.65L495.71 1378.23L497.31 1377.82L498.91 1377.40L500.51 1376.98L502.11 1376.56L503.70 1376.13L505.30 1375.71L506.90 1375.28L508.49 1374.85L510.09 1374.43L511.68 1373.99L513.28 1373.56L514.87 1373.13L516.47 1372.69L518.06 1372.26L519.65 1371.82L521.25 1371.38L522.84 1370.94L524.43 1370.50L526.02 1370.05L527.61 1369.61L529.20 1369.16L530.79 1368.71L532.38 1368.26L533.97 1367.81L535.56 1367.36L537.14 1366.90L538.73 1366.45L540.32 1365.99L541.90 1365.53L543.49 1365.07L545.08 1364.61L546.66 1364.15L548.24 1363.68L549.83 1363.21L551.41 1362.75L552.99 1362.28L554.58 1361.81L556.16 1361.34L557.74 1360.86L559.32 1360.39L560.90 1359.91L562.48 1359.43L564.06 1358.95L565.64 1358.47L567.22 1357.99L568.80 1357.51L570.37 1357.02L571.95 1356.53L573.53 1356.04L575.10 1355.56L576.68 1355.06L578.25 1354.57L579.83 1354.08L581.40 1353.58L582.97 1353.08L584.55 1352.59L586.12 1352.09L587.69 1351.58L589.26 1351.08L590.83 1350.58L592.40 1350.07L593.97 1349.56L595.54 1349.05L597.11 1348.54L598.68 1348.03L600.25 1347.52L601.81 1347.00L603.38 1346.49L604.94 1345.97L606.51 1345.45L608.07 1344.93L609.64 1344.41L611.20 1343.89L612.77 1343.36L614.33 1342.83L615.89 1342.31L617.45 1341.78L619.01 1341.25L620.57 1340.71L622.13 1340.18L623.69 1339.64L625.25 1339.11L626.81 1338.57L628.37 1338.03L629.92 1337.49L631.48 1336.95L633.04 1336.40L634.59 1335.86L636.15 1335.31L637.70 1334.76L639.26 1334.21L640.81 1333.66L642.36 1333.11L643.91 1332.55L645.46 1332.00L647.02 1331.44L648.57 1330.88L650.12 1330.32L651.66 1329.76L653.21 1329.20L654.76 1328.63L656.31 1328.07L657.86 1327.50L659.40 1326.93L660.95 1326.36L662.49 1325.79L664.04 1325.22L665.58 1324.64L667.12 1324.07L668.67 1323.49L670.21 1322.91L671.75 1322.33L673.29 1321.75L674.83 1321.17L676.37 1320.58L677.91 1320.00L679.45 1319.41L680.99 1318.82L682.52 1318.23L684.06 1317.64L685.60 1317.04L687.13 1316.45L688.67 1315.85L690.20 1315.25L691.73 1314.66L693.27 1314.05L694.80 1313.45L696.33 1312.85L697.86 1312.24L699.39 1311.64L700.92 1311.03L702.45 1310.42L703.98 1309.81L705.51 1309.20L707.03 1308.58L708.56 1307.97L710.09 1307.35L711.61 1306.74L713.14 1306.12L714.66 1305.49L716.19 1304.87L717.71 1304.25L719.23 1303.62L720.75 1303.00L722.27 1302.37L723.79 1301.74L725.31 1301.11L726.83 1300.48L728.35 1299.84L729.87 1299.21L731.38 1298.57L732.90 1297.93L734.42 1297.29L735.93 1296.65L737.45 1296.01L738.96 1295.37L740.47 1294.72L741.99 1294.08L743.50 1293.43L745.01 1292.78L746.52 1292.13L748.03 1291.47L749.54 1290.82L751.05 1290.17L752.55 1289.51L754.06 1288.85L755.57 1288.19L757.07 1287.53L758.58 1286.87L760.08 1286.20L761.59 1285.54L763.09 1284.87L764.59 1284.20L766.09 1283.53L767.59 1282.86L769.09 1282.19L770.59 1281.52L772.09 1280.84L773.59 1280.16L775.09 1279.49L776.59 1278.81L778.08 1278.13L779.58 1277.44L781.07 1276.76L782.57 1276.07L784.06 1275.39L785.55 1274.70L787.04 1274.01L788.53 1273.32L790.02 1272.63L791.51 1271.93L793.00 1271.24L794.49 1270.54L795.98 1269.84L797.47 1269.14L798.95 1268.44L800.44 1267.74L801.92 1267.04L803.41 1266.33L804.89 1265.63L806.37 1264.92L807.85 1264.21L809.34 1263.50L810.82 1262.79L812.30 1262.07L813.78 1261.36L815.25 1260.64L816.73 1259.92L818.21 1259.20L819.68 1258.48L821.16 1257.76L822.63 1257.04L824.11 1256.31L825.58 1255.58L827.05 1254.86L828.52 1254.13L830.00 1253.40L831.47 1252.66L832.93 1251.93L834.40 1251.20L835.87 1250.46L837.34 1249.72L838.80 1248.98L840.27 1248.24L841.73 1247.50L843.20 1246.76L844.66 1246.01L846.12 1245.27L847.59 1244.52L849.05 1243.77L850.51 1243.02L851.97 1242.27L853.43 1241.51L854.88 1240.76L856.34 1240.00L857.80 1239.25L859.25 1238.49L860.71 1237.73L862.16 1236.97L863.62 1236.20L865.07 1235.44L866.52 1234.67L867.97 1233.90L869.42 1233.14L870.87 1232.37L872.32 1231.59L873.77 1230.82L875.21 1230.05L876.66 1229.27L878.10 1228.49L879.55 1227.72L880.99 1226.94L882.44 1226.15L883.88 1225.37L885.32 1224.59L886.76 1223.80L888.20 1223.02L889.64 1222.23L891.08 1221.44L892.52 1220.65L893.95 1219.85L895.39 1219.06L896.82 1218.26L898.26 1217.47L899.69 1216.67L901.12 1215.87L902.55 1215.07L903.99 1214.27L905.42 1213.46L906.84 1212.66L908.27 1211.85L909.70 1211.04L911.13 1210.23L912.55 1209.42L913.98 1208.61L915.40 1207.80L916.83 1206.98L918.25 1206.17L919.67 1205.35L921.09 1204.53L922.51 1203.71L923.93 1202.89L925.35 1202.06L926.77 1201.24L928.18 1200.41L929.60 1199.59L931.02 1198.76L932.43 1197.93L933.84 1197.10L935.26 1196.26L936.67 1195.43L938.08 1194.59L939.49 1193.76L940.90 1192.92L942.31 1192.08L943.71 1191.24L945.12 1190.39L946.53 1189.55L947.93 1188.70L949.33 1187.86L950.74 1187.01L952.14 1186.16L953.54 1185.31L954.94 1184.46L956.34 1183.60L957.74 1182.75L959.14 1181.89L960.54 1181.03L961.93 1180.17L963.33 1179.31L964.72 1178.45L966.12 1177.59L967.51 1176.72L968.90 1175.86L970.29 1174.99L971.68 1174.12L973.07 1173.25L974.46 1172.38L975.85 1171.51L977.23 1170.63L978.62 1169.76L980.00 1168.88L981.39 1168.00L982.77 1167.12L984.15 1166.24L985.53 1165.36L986.91 1164.47L988.29 1163.59L989.67 1162.70L991.05 1161.81L992.42 1160.92L993.80 1160.03L995.18 1159.14L996.55 1158.25L997.92 1157.35L999.29 1156.45L1000.67 1155.56L1002.04 1154.66L1003.41 1153.76L1004.77 1152.86L1006.14 1151.95L1007.51 1151.05L1008.88 1150.14L1010.24 1149.24L1011.60 1148.33L1012.97 1147.42L1014.33 1146.51L1015.69 1145.60L1017.05 1144.68L1018.41 1143.77L1019.77 1142.85L1021.13 1141.93L1022.49 1141.01L1023.84 1140.09L1025.20 1139.17L1026.55 1138.25L1027.90 1137.33L1029.26 1136.40L1030.61 1135.47L1031.96 1134.55L1033.31 1133.62L1034.66 1132.69L1036.01 1131.75L1037.35 1130.82L1038.70 1129.89L1040.04 1128.95L1041.39 1128.01L1042.73 1127.07L1044.08 1126.14L1045.42 1125.19L1046.76 1124.25L1048.10 1123.31L1049.44 1122.36L1050.77 1121.42L1052.11 1120.47L1053.45 1119.52L1054.78 1118.57L1056.12 1117.62L1057.45 1116.67L1058.78 1115.71L1060.12 1114.76L1061.45 1113.80L1062.78 1112.84L1064.11 1111.89L1065.43 1110.93L1066.76 1109.96L1068.09 1109.00L1069.41 1108.04L1070.74 1107.07L1072.06 1106.11L1073.38 1105.14L1074.71 1104.17L1076.03 1103.20L1077.35 1102.23L1078.67 1101.25L1079.98 1100.28L1081.30 1099.30L1082.62 1098.33L1083.93 1097.35L1085.25 1096.37L1086.56 1095.39L1087.87 1094.41L1089.18 1093.43L1090.50 1092.44L1091.81 1091.46L1093.11 1090.47L1094.42 1089.48L1095.73 1088.50L1097.04 1087.51L1098.34 1086.51L1099.65 1085.52L1100.95 1084.53L1102.25 1083.53L1103.55 1082.54L1104.85 1081.54L1106.15 1080.54L1107.45 1079.54L1108.75 1078.54L1110.05 1077.54L1111.34 1076.53L1112.64 1075.53L1113.93 1074.52L1115.23 1073.52L1116.52 1072.51L1117.81 1071.50L1119.10 1070.49L1120.39 1069.48L1121.68 1068.46L1122.97 1067.45L1124.25 1066.43L1125.54 1065.42L1126.82 1064.40L1128.11 1063.38L1129.39 1062.36L1130.67 1061.34L1131.96 1060.32L1133.24 1059.29L1134.52 1058.27L1135.79 1057.24L1137.07 1056.21L1138.35 1055.19L1139.62 1054.16L1140.90 1053.13L1142.17 1052.09L1143.45 1051.06L1144.72 1050.03L1145.99 1048.99L1147.26 1047.95L1148.53 1046.92L1149.80 1045.88L1151.06 1044.84L1152.33 1043.80L1153.60 1042.75L1154.86 1041.71L1156.13 1040.67L1157.39 1039.62L1158.65 1038.57L1159.91 1037.52L1161.17 1036.48L1162.43 1035.42L1163.69 1034.37L1164.95 1033.32L1166.20 1032.27L1167.46 1031.21L1168.71 1030.16L1169.96 1029.10L1171.22 1028.04L1172.47 1026.98L1173.72 1025.92L1174.97 1024.86L1176.22 1023.80L1177.47 1022.73L1178.71 1021.67L1179.96 1020.60L1181.20 1019.53L1182.45 1018.46L1183.69 1017.39L1184.93 1016.32L1186.17 1015.25L1187.41 1014.18L1188.65 1013.11L1189.89 1012.03L1191.13 1010.95L1192.37 1009.88L1193.60 1008.80L1194.84 1007.72L1196.07 1006.64L1197.30 1005.56L1198.54 1004.47L1199.77 1003.39L1201.00 1002.30L1202.22 1001.22L1203.45 1000.13L1204.68 999.04L1205.91 997.95L1207.13 996.86L1208.36 995.77L1209.58 994.68L1210.80 993.59L1212.02 992.49L1213.24 991.39L1214.46 990.30L1215.68 989.20L1216.90 988.10L1218.12 987.00L1219.33 985.90L1220.55 984.80L1221.76 983.69L1222.97 982.59L1224.19 981.48L1225.40 980.38L1226.61 979.27L1227.82 978.16L1229.02 977.05L1230.23 975.94L1231.44 974.83L1232.64 973.72L1233.85 972.60L1235.05 971.49L1236.25 970.37L1237.45 969.26L1238.66 968.14L1239.86 967.02L1241.05 965.90L1242.25 964.78L1243.45 963.66L1244.64 962.53L1245.84 961.41L1247.03 960.28L1248.23 959.16L1249.42 958.03L1250.61 956.90L1251.80 955.77L1252.99 954.64L1254.18 953.51L1255.36 952.38L1256.55 951.24L1257.73 950.11L1258.92 948.97L1260.10 947.84L1261.28 946.70L1262.47 945.56L1263.65 944.42L1264.83 943.28L1266.00 942.14L1267.18 941.00L1268.36 939.86L1269.53 938.71L1270.71 937.57L1271.88 936.42L1273.06 935.27L1274.23 934.12L1275.40 932.97L1276.57 931.82L1277.74 930.67L1278.91 929.52L1280.07 928.37L1281.24 927.21L1282.40 926.06L1283.57 924.90L1284.73 923.74L1285.89 922.59L1287.05 921.43L1288.21 920.27L1289.37 919.11L1290.53 917.94L1291.69 916.78L1292.85 915.62L1294.00 914.45L1295.16 913.29L1296.31 912.12L1297.46 910.95L1298.61 909.78L1299.76 908.61L1300.91 907.44L1302.06 906.27L1303.21 905.10L1304.36 903.92L1305.50 902.75L1306.65 901.57L1307.79 900.40L1308.93 899.22L1310.07 898.04L1311.22 896.86L1312.36 895.68L1313.49 894.50L1314.63 893.32L1315.77 892.14L1316.91 890.95L1318.04 889.77L1319.17 888.58L1320.31 887.40L1321.44 886.21L1322.57 885.02L1323.70 883.83L1324.83 882.64L1325.96 881.45L1327.08 880.26L1328.21 879.06L1329.34 877.87L1330.46 876.67L1331.58 875.48L1332.71 874.28L1333.83 873.08L1334.95 871.89L1336.07 870.69L1337.19 869.49L1338.30 868.29L1339.42 867.08L1340.53 865.88L1341.65 864.68L1342.76 863.47L1343.87 862.27L1344.99 861.06L1346.10 859.85L1347.21 858.64L1348.31 857.44L1349.42 856.23L1350.53 855.01L1351.63 853.80L1352.74 852.59L1353.84 851.38L1354.95 850.16L1356.05 848.95L1357.15 847.73L1358.25 846.51L1359.35 845.30L1360.44 844.08L1361.54 842.86L1362.64 841.64L1363.73 840.41L1364.83 839.19L1365.92 837.97L1367.01 836.75L1368.10 835.52L1369.19 834.30L1370.28 833.07L1371.37 831.84L1372.46 830.61L1373.54 829.38L1374.63 828.15L1375.71 826.92L1376.80 825.69L1377.88 824.46L1378.96 823.23L1380.04 821.99L1381.12 820.76L1382.20 819.52L1383.28 818.28L1384.35 817.05L1385.43 815.81L1386.50 814.57L1387.58 813.33L1388.65 812.09L1389.72 810.85L1390.79 809.60L1391.86 808.36L1392.93 807.12L1394.00 805.87L1395.07 804.63L1396.14 803.38L1397.20 802.13L1398.27 800.88L1399.33 799.63L1400.39 798.38L1401.45 797.13L1402.51 795.88L1403.57 794.63L1404.63 793.38L1405.69 792.12L1406.75 790.87L1407.80 789.61L1408.86 788.36L1409.91 787.10L1410.97 785.84L1412.02 784.58L1413.07 783.32L1414.12 782.06L1415.17 780.80L1416.22 779.54L1417.26 778.28L1418.31 777.01L1419.36 775.75L1420.40 774.48L1421.45 773.22L1422.49 771.95L1423.53 770.68L1424.57 769.41L1425.61 768.14L1426.65 766.87L1427.69 765.60L1428.73 764.33L1429.76 763.06L1430.80 761.79L1431.83 760.51L1432.87 759.24L1433.90 757.96L1434.93 756.69L1435.96 755.41L1436.99 754.13L1438.02 752.86L1439.05 751.58L1440.08 750.30L1441.10 749.02L1442.13 747.73L1443.15 746.45L1444.18 745.17L1445.20 743.89L1446.22 742.60L1447.24 741.32L1448.26 740.03L1449.28 738.74L1450.30 737.46L1451.32 736.17L1452.33 734.88L1453.35 733.59L1454.36 732.30L1455.38 731.01L1456.39 729.72L1457.40 728.42L1458.41 727.13L1459.42 725.84L1460.43 724.54L1461.44 723.25L1462.44 721.95L1463.45 720.65L1464.46 719.35L1465.46 718.06L1466.46 716.76L1467.47 715.46L1468.47 714.16L1469.47 712.85L1470.47 711.55L1471.47 710.25L1472.47 708.95L1473.47 707.64L1474.46 706.34L1475.46 705.03L1476.45 703.73L1477.45 702.42L1478.44 701.11L1479.43 699.80L1480.42 698.49L1481.41 697.18L1482.40 695.87L1483.39 694.56L1484.38 693.25L1485.36 691.94L1486.35 690.62L1487.33 689.31L1488.32 687.99L1489.30 686.68L1490.28 685.36L1491.27 684.05L1492.25 682.73L1493.23 681.41L1494.20 680.09L1495.18 678.77L1496.16 677.45L1497.14 676.13L1498.11 674.81L1499.09 673.49L1500.06 672.16L1501.03 670.84L1502.00 669.51L1502.97 668.19L1503.94 666.86L1504.91 665.54L1505.88 664.21L1506.85 662.88L1507.82 661.55L1508.78 660.23L1509.75 658.90L1510.71 657.57L1511.67 656.23L1512.64 654.90L1513.60 653.57L1514.56 652.24L1515.52 650.90L1516.48 649.57L1517.43 648.23L1518.39 646.90L1519.35 645.56L1520.30 644.23L1521.26 642.89L1522.21 641.55L1523.16 640.21L1524.11 638.87L1525.06 637.53L1526.02 636.19L1526.96 634.85L1527.91 633.51L1528.86 632.17L1529.81 630.82L1530.75 629.48L1531.70 628.13L1532.64 626.79L1533.59 625.44L1534.53 624.10L1535.47 622.75L1536.41 621.40L1537.35 620.05L1538.29 618.70L1539.23 617.35L1540.16 616.00L1541.10 614.65L1542.04 613.30L1542.97 611.95L1543.91 610.60L1544.84 609.24L1545.77 607.89L1546.70 606.54L1547.63 605.18L1548.56 603.83L1549.49 602.47L1550.42 601.11L1551.35 599.76L1552.27 598.40L1553.20 597.04L1554.12 595.68L1555.05 594.32L1555.97 592.96L1556.89 591.60L1557.81 590.24L1558.74 588.87L1559.66 587.51L1560.57 586.15L1561.49 584.78L1562.41 583.42L1563.33 582.05L1564.24 580.69L1565.16 579.32L1566.07 577.96L1566.98 576.59L1567.90 575.22L1568.81 573.85L1569.72 572.48L1570.63 571.11L1571.54 569.74L1572.44 568.37L1573.35 567.00L1574.26 565.63L1575.16 564.26L1576.07 562.88L1576.97 561.51L1577.88 560.13L1578.78 558.76L1579.68 557.38L1580.58 556.01L1581.48 554.63L1582.38 553.26L1583.28 551.88L1584.18 550.50L1585.07 549.12L1585.97 547.74L1586.86 546.36L1587.76 544.98L1588.65 543.60L1589.54 542.22L1590.44 540.84L1591.33 539.45L1592.22 538.07L1593.11 536.69L1594.00 535.30L1594.88 533.92L1595.77 532.53L1596.66 531.15L1597.54 529.76L1598.43 528.38L1599.31 526.99L1600.19 525.60L1601.08 524.21L1601.96 522.82L1602.84 521.43L1603.72 520.04L1604.60 518.65L1605.48 517.26L1606.35 515.87L1607.23 514.48L1608.11 513.09L1608.98 511.70L1609.85 510.30L1610.73 508.91L1611.60 507.51L1612.47 506.12L1613.34 504.72L1614.21 503.33L1615.08 501.93L1615.95 500.53L1616.82 499.14L1617.69 497.74L1618.55 496.34L1619.42 494.94L1620.28 493.54L1621.15 492.14L1622.01 490.74L1622.87 489.34L1623.74 487.94L1624.60 486.54L1625.46 485.13L1626.32 483.73L1627.17 482.33L1628.03 480.93L1628.89 479.52L1629.75 478.12L1630.60 476.71L1631.46 475.31L1632.31 473.90L1633.16 472.49L1634.02 471.09L1634.87 469.68L1635.72 468.27L1636.57 466.86L1637.42 465.45L1638.27 464.04L1639.11 462.63L1639.96 461.22L1640.81 459.81L1641.65 458.40L1642.50 456.99L1643.34 455.58L1644.18 454.16L1645.03 452.75L1645.87 451.34L1646.71 449.92L1647.55 448.51L1648.39 447.10L1649.23 445.68L1650.06 444.26L1650.90 442.85L1651.74 441.43L1652.57 440.01L1653.41 438.60L1654.24 437.18L1655.07 435.76L1655.91 434.34L1656.74 432.92L1657.57 431.50L1658.40 430.08L1659.23 428.66L1660.06 427.24L1660.89 425.82L1661.71 424.40L1662.54 422.98L1663.36 421.55L1664.19 420.13L1665.01 418.71L1665.84 417.28L1666.66 415.86L1667.48 414.44L1668.30 413.01L1669.12 411.58L1669.94 410.16L1670.76 408.73L1671.58 407.31L1672.40 405.88L1673.21 404.45L1674.03 403.02L1674.85 401.60L1675.66 400.17L1676.47 398.74L1677.29 397.31L1678.10 395.88L1678.91 394.45L1679.72 393.02L1680.53 391.59L1681.34 390.15L1682.15 388.72L1682.96 387.29L1683.77 385.86L1684.57 384.43L1685.38 382.99L1686.18 381.56L1686.99 380.12L1687.79 378.69L1688.59 377.25L1689.39 375.82L1690.20 374.38L1691.00 372.95L1691.80 371.51L1692.60 370.07L1693.39 368.64L1694.19 367.20L1694.99 365.76L1695.78 364.32L1696.58 362.89L1697.38 361.45L1698.17 360.01L1698.96 358.57L1699.76 357.13L1700.55 355.69L1701.34 354.25L1702.13 352.81L1702.92 351.37L1703.71 349.92L1704.50 348.48L1705.28 347.04L1706.07 345.60L1706.86 344.15L1707.64 342.71L1708.43 341.27L1709.21 339.82L1709.99 338.38L1710.78 336.93L1711.56 335.49L1712.34 334.04L1713.12 332.60L1713.90 331.15L1714.68 329.70L1715.46 328.26L1716.24 326.81L1717.01 325.36L1717.79 323.92L1718.57 322.47L1719.34 321.02L1720.11 319.57L1720.89 318.12L1721.66 316.67L1722.43 315.22L1723.20 313.77L1723.97 312.32L1724.74 310.87L1725.51 309.42L1726.28 307.97L1727.05 306.52L1727.82 305.07L1728.58 303.61L1729.35 302.16L1730.12 300.71L1730.88 299.26L1731.64 297.80L1732.41 296.35L1733.17 294.90L1733.93 293.44L1734.69 291.99L1735.45 290.53L1736.21 289.08L1736.97 287.62L1737.73 286.17L1738.49 284.71L1739.24 283.25L1740.00 281.80L1740.76 280.34L1741.51 278.88L1742.26 277.43L1743.02 275.97L1743.77 274.51L1744.52 273.05L1745.27 271.59L1746.02 270.14L1746.77 268.68L1747.52 267.22L1748.27 265.76L1749.02 264.30L1749.77 262.84L1750.52 261.38L1751.26 259.92L1752.01 258.46L1752.75 257.00L1753.50 255.54L1754.24 254.07L1754.98 252.61L1755.72 251.15L1756.46 249.69L1757.21 248.23L1757.95 246.76L1758.69 245.30L1759.42 243.84L1760.16 242.37L1760.90 240.91L1761.64 239.45L1762.37 237.98L1763.11 236.52L1763.84 235.05L1764.58 233.59L1765.31 232.12L1766.04 230.66L1766.77 229.19L1767.51 227.72L1768.24 226.26L1768.97 224.79L1769.70 223.33L1770.42 221.86L1771.15 220.39L1771.88 218.92L1772.61 217.46L1773.33 215.99L1774.06 214.52L1774.78 213.05L1775.51 211.59L1776.23 210.12L1776.95 208.65L1777.68 207.18L1778.40 205.71L1779.12 204.24L1779.84 202.77L1780.56 201.30L1781.28 199.83L1782.00 198.36L1782.71 196.89L1783.43 195.42L1784.15 193.95L1784.86 192.48L1785.58 191.01L1786.29 189.54L1787.01 188.07L1787.72 186.59L1788.43 185.12L1789.15 183.65L1789.86 182.18L1790.57 180.71L1791.28 179.23L1791.99 177.76L1792.70 176.29L1793.40 174.81L1794.11 173.34L1794.82 171.87L1795.53 170.39L1796.23 168.92L1796.94 167.45L1797.64 165.97L1798.34 164.50L1799.05 163.02L1799.75 161.55L1800.45 160.07L1801.15 158.60L1801.85 157.12L1802.55 155.65L1803.25 154.17L1803.95 152.70L1804.65 151.22L1805.35 149.75L1806.05 148.27L1806.74 146.79L1807.44 145.32L1808.13 143.84L1808.83 142.36L1809.52 140.89L1810.21 139.41L1810.91 137.93L1811.60 136.45L1812.29 134.98L1812.98 133.50L1813.67 132.02L1814.36 130.54L1815.05 129.07L1815.74 127.59L1816.43 126.11L1817.11 124.63L1817.80 123.15L1818.48 121.68L1819.17 120.20L1819.85 118.72L1820.54 117.24L1821.22 115.76L1821.90 114.28L1822.59 112.80L1823.27 111.32L1823.95 109.84L1824.63 108.36L1825.31 106.88L1825.99 105.40L1826.67 103.92L1827.35 102.44L1828.02 100.96L1828.70 99.48L1829.38 98.00L1830.05 96.52L1830.73 95.04L1831.40 93.56L1832.08 92.08L1832.75 90.60L1833.42 89.12L1834.09 87.64L1834.77 86.15L1835.44 84.67L1836.11 83.19L1836.78 81.71L1837.45 80.23L1838.11 78.75L1838.78 77.27L1839.45 75.78L1840.12 74.30L1840.78 72.82L1841.45 71.34L1842.11 69.86L1842.78 68.37L1843.44 66.89L1844.10 65.41L1844.77 63.93L1845.43 62.44L1846.09 60.96L1846.75 59.48L1847.41 58.00L1848.07 56.51L1848.73 55.03" stroke="#ff0000" stroke-width="14.00" stroke-dasharray="37.5 49.5" stroke-dashoffset="85.05" stroke-linecap="round"/>
<path d="M492.63 1414.72L494.33 1414.44L496.03 1414.17L497.73 1413.89L499.43 1413.61L501.13 1413.33L502.82 1413.05L504.52 1412.77L506.22 1412.48L507.92 1412.20L509.62 1411.91L511.32 1411.63L513.01 1411.34L514.71 1411.05L516.41 1410.76L518.11 1410.47L519.81 1410.17L521.51 1409.88L523.21 1409.58L524.90 1409.28L526.60 1408.99L528.30 1408.69L530.00 1408.39L531.70 1408.08L533.40 1407.78L535.09 1407.48L536.79 1407.17L538.49 1406.87L540.19 1406.56L541.89 1406.25L543.59 1405.94L545.28 1405.63L546.98 1405.31L548.68 1405.00L550.38 1404.68L552.08 1404.37L553.77 1404.05L555.47 1403.73L557.17 1403.41L558.87 1403.09L560.56 1402.76L562.26 1402.44L563.96 1402.11L565.66 1401.79L567.36 1401.46L569.05 1401.13L570.75 1400.80L572.45 1400.47L574.14 1400.14L575.84 1399.80L577.54 1399.47L579.24 1399.13L580.93 1398.79L582.63 1398.45L584.33 1398.11L586.02 1397.77L587.72 1397.43L589.42 1397.08L591.11 1396.74L592.81 1396.39L594.51 1396.04L596.20 1395.70L597.90 1395.34L599.59 1394.99L601.29 1394.64L602.98 1394.29L604.68 1393.93L606.38 1393.57L608.07 1393.22L609.77 1392.86L611.46 1392.50L613.16 1392.13L614.85 1391.77L616.55 1391.41L618.24 1391.04L619.94 1390.67L621.63 1390.31L623.32 1389.94L625.02 1389.57L626.71 1389.19L628.41 1388.82L630.10 1388.45L631.79 1388.07L633.49 1387.69L635.18 1387.32L636.87 1386.94L638.57 1386.55L640.26 1386.17L641.95 1385.79L643.64 1385.40L645.34 1385.02L647.03 1384.63L648.72 1384.24L650.41 1383.85L652.10 1383.46L653.80 1383.07L655.49 1382.68L657.18 1382.28L658.87 1381.89L660.56 1381.49L662.25 1381.09L663.94 1380.69L665.63 1380.29L667.32 1379.89L669.01 1379.48L670.70 1379.08L672.39 1378.67L674.08 1378.26L675.77 1377.85L677.46 1377.44L679.15 1377.03L680.84 1376.62L682.52 1376.20L684.21 1375.79L685.90 1375.37L687.59 1374.95L689.27 1374.53L690.96 1374.11L692.65 1373.69L694.34 1373.27L696.02 1372.84L697.71 1372.42L699.39 1371.99L701.08 1371.56L702.77 1371.13L704.45 1370.70L706.14 1370.27L707.82 1369.84L709.51 1369.40L711.19 1368.97L712.87 1368.53L714.56 1368.09L716.24 1367.65L717.93 1367.21L719.61 1366.77L721.29 1366.32L722.97 1365.88L724.66 1365.43L726.34 1364.98L728.02 1364.53L729.70 1364.08L731.38 1363.63L733.07 1363.18L734.75 1362.72L736.43 1362.27L738.11 1361.81L739.79 1361.35L741.47 1360.89L743.15 1360.43L744.83 1359.97L746.50 1359.50L748.18 1359.04L749.86 1358.57L751.54 1358.11L753.22 1357.64L754.89 1357.17L756.57 1356.69L758.25 1356.22L759.92 1355.75L761.60 1355.27L763.28 1354.80L764.95 1354.32L766.63 1353.84L768.30 1353.36L769.98 1352.88L771.65 1352.39L773.32 1351.91L775.00 1351.42L776.67 1350.93L778.34 1350.44L780.02 1349.95L781.69 1349.46L783.36 1348.97L785.03 1348.48L786.70 1347.98L788.38 1347.48L790.05 1346.99L791.72 1346.49L793.39 1345.99L795.06 1345.48L796.72 1344.98L798.39 1344.48L800.06 1343.97L801.73 1343.46L803.40 1342.95L805.07 1342.44L806.73 1341.93L808.40 1341.42L810.07 1340.91L811.73 1340.39L813.40 1339.87L815.06 1339.36L816.73 1338.84L818.39 1338.32L820.06 1337.79L821.72 1337.27L823.38 1336.75L825.05 1336.22L826.71 1335.69L828.37 1335.16L830.03 1334.63L831.69 1334.10L833.35 1333.57L835.01 1333.04L836.67 1332.50L838.33 1331.96L839.99 1331.42L841.65 1330.89L843.31 1330.34L844.97 1329.80L846.63 1329.26L848.28 1328.71L849.94 1328.17L851.60 1327.62L853.25 1327.07L854.91 1326.52L856.56 1325.97L858.22 1325.42L859.87 1324.86L861.53 1324.31L863.18 1323.75L864.83 1323.19L866.49 1322.63L868.14 1322.07L869.79 1321.51L871.44 1320.94L873.09 1320.38L874.74 1319.81L876.39 1319.24L878.04 1318.67L879.69 1318.10L881.34 1317.53L882.99 1316.96L884.63 1316.38L886.28 1315.80L887.93 1315.23L889.57 1314.65L891.22 1314.07L892.86 1313.49L894.51 1312.90L896.15 1312.32L897.80 1311.73L899.44 1311.15L901.08 1310.56L902.72 1309.97L904.37 1309.38L906.01 1308.78L907.65 1308.19L909.29 1307.59L910.93 1307.00L912.57 1306.40L914.21 1305.80L915.84 1305.20L917.48 1304.60L919.12 1303.99L920.76 1303.39L922.39 1302.78L924.03 1302.17L925.66 1301.56L927.30 1300.95L928.93 1300.34L930.57 1299.73L932.20 1299.11L933.83 1298.50L935.46 1297.88L937.09 1297.26L938.73 1296.64L940.36 1296.02L941.99 1295.40L943.62 1294.77L945.24 1294.15L946.87 1293.52L948.50 1292.89L950.13 1292.26L951.75 1291.63L953.38 1291.00L955.01 1290.36L956.63 1289.73L958.25 1289.09L959.88 1288.45L961.50 1287.81L963.12 1287.17L964.75 1286.53L966.37 1285.88L967.99 1285.24L969.61 1284.59L971.23 1283.94L972.85 1283.29L974.47 1282.64L976.09 1281.99L977.70 1281.34L979.32 1280.68L980.94 1280.02L982.55 1279.37L984.17 1278.71L985.78 1278.05L987.40 1277.38L989.01 1276.72L990.62 1276.06L992.23 1275.39L993.84 1274.72L995.46 1274.05L997.07 1273.38L998.68 1272.71L1000.28 1272.04L1001.89 1271.36L1003.50 1270.69L1005.11 1270.01L1006.71 1269.33L1008.32 1268.65L1009.93 1267.97L1011.53 1267.28L1013.13 1266.60L1014.74 1265.91L1016.34 1265.22L1017.94 1264.54L1019.54 1263.84L1021.15 1263.15L1022.75 1262.46L1024.35 1261.76L1025.94 1261.07L1027.54 1260.37L1029.14 1259.67L1030.74 1258.97L1032.33 1258.27L1033.93 1257.57L1035.52 1256.86L1037.12 1256.16L1038.71 1255.45L1040.30 1254.74L1041.90 1254.03L1043.49 1253.32L1045.08 1252.60L1046.67 1251.89L1048.26 1251.17L1049.85 1250.46L1051.44 1249.74L1053.02 1249.02L1054.61 1248.30L1056.20 1247.57L1057.78 1246.85L1059.37 1246.12L1060.95 1245.39L1062.53 1244.67L1064.12 1243.93L1065.70 1243.20L1067.28 1242.47L1068.86 1241.74L1070.44 1241.00L1072.02 1240.26L1073.60 1239.52L1075.18 1238.78L1076.75 1238.04L1078.33 1237.30L1079.90 1236.55L1081.48 1235.81L1083.05 1235.06L1084.63 1234.31L1086.20 1233.56L1087.77 1232.81L1089.34 1232.05L1090.91 1231.30L1092.48 1230.54L1094.05 1229.78L1095.62 1229.03L1097.19 1228.26L1098.75 1227.50L1100.32 1226.74L1101.89 1225.97L1103.45 1225.21L1105.01 1224.44L1106.58 1223.67L1108.14 1222.90L1109.70 1222.13L1111.26 1221.35L1112.82 1220.58L1114.38 1219.80L1115.94 1219.02L1117.50 1218.24L1119.05 1217.46L1120.61 1216.68L1122.16 1215.90L1123.72 1215.11L1125.27 1214.32L1126.82 1213.54L1128.38 1212.75L1129.93 1211.95L1131.48 1211.16L1133.03 1210.37L1134.58 1209.57L1136.12 1208.78L1137.67 1207.98L1139.22 1207.18L1140.76 1206.38L1142.31 1205.57L1143.85 1204.77L1145.40 1203.96L1146.94 1203.15L1148.48 1202.35L1150.02 1201.54L1151.56 1200.72L1153.10 1199.91L1154.64 1199.10L1156.18 1198.28L1157.71 1197.46L1159.25 1196.64L1160.78 1195.82L1162.32 1195.00L1163.85 1194.18L1165.38 1193.35L1166.92 1192.53L1168.45 1191.70L1169.98 1190.87L1171.51 1190.04L1173.03 1189.20L1174.56 1188.37L1176.09 1187.54L1177.61 1186.70L1179.14 1185.86L1180.66 1185.02L1182.19 1184.18L1183.71 1183.34L1185.23 1182.49L1186.75 1181.65L1188.27 1180.80L1189.79 1179.95L1191.31 1179.10L1192.82 1178.25L1194.34 1177.39L1195.85 1176.54L1197.37 1175.68L1198.88 1174.83L1200.40 1173.97L1201.91 1173.11L1203.42 1172.24L1204.93 1171.38L1206.44 1170.52L1207.94 1169.65L1209.45 1168.78L1210.96 1167.91L1212.46 1167.04L1213.97 1166.17L1215.47 1165.29L1216.97 1164.42L1218.48 1163.54L1219.98 1162.66L1221.48 1161.78L1222.98 1160.90L1224.47 1160.02L1225.97 1159.13L1227.47 1158.25L1228.96 1157.36L1230.46 1156.47L1231.95 1155.58L1233.44 1154.69L1234.93 1153.79L1236.43 1152.90L1237.92 1152.00L1239.40 1151.10L1240.89 1150.20L1242.38 1149.30L1243.86 1148.40L1245.35 1147.50L1246.83 1146.59L1248.32 1145.68L1249.80 1144.77L1251.28 1143.86L1252.76 1142.95L1254.24 1142.04L1255.72 1141.12L1257.19 1140.21L1258.67 1139.29L1260.15 1138.37L1261.62 1137.45L1263.09 1136.53L1264.57 1135.60L1266.04 1134.68L1267.51 1133.75L1268.98 1132.82L1270.45 1131.89L1271.91 1130.96L1273.38 1130.03L1274.85 1129.09L1276.31 1128.16L1277.77 1127.22L1279.24 1126.28L1280.70 1125.34L1282.16 1124.40L1283.62 1123.46L1285.08 1122.51L1286.53 1121.56L1287.99 1120.62L1289.44 1119.67L1290.90 1118.71L1292.35 1117.76L1293.80 1116.81L1295.26 1115.85L1296.71 1114.89L1298.16 1113.94L1299.60 1112.98L1301.05 1112.01L1302.50 1111.05L1303.94 1110.08L1305.39 1109.12L1306.83 1108.15L1308.27 1107.18L1309.71 1106.21L1311.15 1105.24L1312.59 1104.26L1314.03 1103.29L1315.47 1102.31L1316.90 1101.33L1318.34 1100.35L1319.77 1099.37L1321.20 1098.38L1322.63 1097.40L1324.06 1096.41L1325.49 1095.42L1326.92 1094.43L1328.35 1093.44L1329.77 1092.45L1331.20 1091.46L1332.62 1090.46L1334.05 1089.46L1335.47 1088.46L1336.89 1087.46L1338.31 1086.46L1339.73 1085.46L1341.14 1084.45L1342.56 1083.45L1343.97 1082.44L1345.39 1081.43L1346.80 1080.42L1348.21 1079.40L1349.62 1078.39L1351.03 1077.37L1352.44 1076.35L1353.85 1075.34L1355.26 1074.31L1356.66 1073.29L1358.07 1072.27L1359.47 1071.24L1360.87 1070.22L1362.27 1069.19L1363.67 1068.16L1365.07 1067.13L1366.47 1066.09L1367.86 1065.06L1369.26 1064.02L1370.65 1062.98L1372.04 1061.94L1373.44 1060.90L1374.83 1059.86L1376.22 1058.82L1377.60 1057.77L1378.99 1056.72L1380.38 1055.67L1381.76 1054.62L1383.15 1053.57L1384.53 1052.52L1385.91 1051.46L1387.29 1050.41L1388.67 1049.35L1390.05 1048.29L1391.42 1047.23L1392.80 1046.16L1394.17 1045.10L1395.55 1044.03L1396.92 1042.96L1398.29 1041.90L1399.66 1040.82L1401.03 1039.75L1402.39 1038.68L1403.76 1037.60L1405.12 1036.53L1406.49 1035.45L1407.85 1034.37L1409.21 1033.28L1410.57 1032.20L1411.93 1031.12L1413.29 1030.03L1414.64 1028.94L1416.00 1027.85L1417.35 1026.76L1418.71 1025.67L1420.06 1024.57L1421.41 1023.48L1422.76 1022.38L1424.10 1021.28L1425.45 1020.18L1426.80 1019.07L1428.14 1017.97L1429.48 1016.86L1430.83 1015.76L1432.17 1014.65L1433.50 1013.54L1434.84 1012.43L1436.18 1011.31L1437.52 1010.20L1438.85 1009.08L1440.18 1007.96L1441.51 1006.84L1442.84 1005.72L1444.17 1004.60L1445.50 1003.47L1446.83 1002.34L1448.15 1001.22L1449.48 1000.09L1450.80 998.95L1452.12 997.82L1453.44 996.69L1454.76 995.55L1456.08 994.41L1457.40 993.27L1458.71 992.13L1460.03 990.99L1461.34 989.85L1462.65 988.70L1463.96 987.55L1465.27 986.40L1466.58 985.25L1467.88 984.10L1469.19 982.95L1470.49 981.79L1471.80 980.64L1473.10 979.48L1474.40 978.32L1475.69 977.15L1476.99 975.99L1478.28 974.82L1479.58 973.66L1480.87 972.49L1482.16 971.32L1483.45 970.15L1484.74 968.97L1486.02 967.80L1487.31 966.62L1488.59 965.44L1489.87 964.26L1491.15 963.08L1492.43 961.89L1493.70 960.71L1494.98 959.52L1496.25 958.33L1497.52 957.14L1498.79 955.94L1500.06 954.75L1501.32 953.55L1502.59 952.35L1503.85 951.15L1505.11 949.95L1506.37 948.75L1507.63 947.54L1508.88 946.33L1510.13 945.12L1511.39 943.91L1512.64 942.70L1513.88 941.48L1515.13 940.27L1516.37 939.05L1517.61 937.83L1518.85 936.61L1520.09 935.38L1521.33 934.16L1522.56 932.93L1523.79 931.70L1525.02 930.47L1526.25 929.23L1527.47 928.00L1528.70 926.76L1529.92 925.52L1531.14 924.28L1532.35 923.03L1533.57 921.79L1534.78 920.54L1535.99 919.29L1537.20 918.04L1538.40 916.79L1539.61 915.53L1540.81 914.28L1542.01 913.02L1543.20 911.76L1544.40 910.49L1545.59 909.23L1546.78 907.96L1547.97 906.69L1549.15 905.42L1550.34 904.15L1551.52 902.87L1552.69 901.59L1553.87 900.32L1555.04 899.03L1556.21 897.75L1557.38 896.47L1558.55 895.18L1559.71 893.89L1560.87 892.60L1562.03 891.30L1563.18 890.01L1564.34 888.71L1565.49 887.41L1566.64 886.11L1567.78 884.80L1568.93 883.50L1570.07 882.19L1571.21 880.88L1572.35 879.57L1573.48 878.26L1574.62 876.95L1575.75 875.63L1576.88 874.32L1578.01 873.00L1579.14 871.68L1580.26 870.36L1581.39 869.04L1582.51 867.72L1583.63 866.39L1584.75 865.07L1585.87 863.74L1586.99 862.41L1588.10 861.08L1589.22 859.76L1590.33 858.43L1591.45 857.10L1592.56 855.76L1593.67 854.43L1594.78 853.10L1595.89 851.77L1597.00 850.43L1598.11 849.10L1599.22 847.76L1600.32 846.43L1601.43 845.09L1602.54 843.75L1603.64 842.42L1604.75 841.08L1605.86 839.74L1606.96 838.41L1608.07 837.07L1609.17 835.73L1610.28 834.40L1611.39 833.06L1612.49 831.72L1613.60 830.38L1614.71 829.05L1615.81 827.71L1616.92 826.37L1618.03 825.04L1619.14 823.70L1620.24 822.37L1621.35 821.03L1622.46 819.70L1623.57 818.37L1624.69 817.03L1625.80 815.70L1626.91 814.37L1628.03 813.04L1629.14 811.71L1630.26 810.38L1631.38 809.05L1632.50 807.73L1633.62 806.40L1634.74 805.07L1635.86 803.75L1636.99 802.43L1638.11 801.11L1639.24 799.79L1640.37 798.47L1641.50 797.15L1642.63 795.83L1643.77 794.52L1644.90 793.21L1646.04 791.89L1647.18 790.58L1648.32 789.28L1649.47 787.97L1650.62 786.66L1651.76 785.36L1652.92 784.06L1654.07 782.76L1655.22 781.46L1656.38 780.16L1657.54 778.87L1658.70 777.57L1659.86 776.28L1661.02 774.99L1662.19 773.70L1663.35 772.41L1664.52 771.12L1665.69 769.83L1666.86 768.55L1668.04 767.26L1669.21 765.98L1670.39 764.70L1671.56 763.42L1672.74 762.14L1673.92 760.86L1675.10 759.58L1676.29 758.31L1677.47 757.03L1678.65 755.76L1679.84 754.48L1681.03 753.21L1682.21 751.94L1683.40 750.67L1684.59 749.40L1685.78 748.13L1686.97 746.86L1688.17 745.59L1689.36 744.32L1690.55 743.06L1691.75 741.79L1692.94 740.52L1694.14 739.26L1695.34 737.99L1696.53 736.73L1697.73 735.47L1698.93 734.20L1700.13 732.94L1701.33 731.68L1702.53 730.42L1703.73 729.15L1704.93 727.89L1706.13 726.63L1707.33 725.37L1708.53 724.11L1709.73 722.85L1710.93 721.59L1712.13 720.33L1713.33 719.07L1714.53 717.81L1715.73 716.54L1716.93 715.28L1718.13 714.02L1719.34 712.76L1720.54 711.50L1721.74 710.24L1722.94 708.98L1724.14 707.72L1725.33 706.46L1726.53 705.20L1727.73 703.93L1728.93 702.67L1730.13 701.41L1731.32 700.15L1732.52 698.88L1733.72 697.62L1734.91 696.35L1736.11 695.09L1737.30 693.82L1738.49 692.56L1739.68 691.29L1740.88 690.02L1742.07 688.75L1743.26 687.49L1744.44 686.22L1745.63 684.95L1746.82 683.68L1748.00 682.40L1749.19 681.13L1750.37 679.86L1751.55 678.58L1752.73 677.31L1753.91 676.03L1755.09 674.76L1756.27 673.48L1757.44 672.20L1758.62 670.92L1759.79 669.64L1760.96 668.36L1762.13 667.07L1763.30 665.79L1764.46 664.50L1765.63 663.21L1766.79 661.93L1767.95 660.64L1769.11 659.34L1770.27 658.05L1771.42 656.76L1772.58 655.46L1773.73 654.17L1774.88 652.87L1776.03 651.57L1777.17 650.27L1778.32 648.96L1779.46 647.66L1780.60 646.35L1781.74 645.05L1782.87 643.74L1784.00 642.42L1785.13 641.11L1786.26 639.80L1787.39 638.48L1788.51 637.16L1789.63 635.84L1790.75 634.52L1791.87 633.20L1792.98 631.87L1794.09 630.54L1795.20 629.21L1796.31 627.88L1797.41 626.55L1798.51 625.21L1799.61 623.87L1800.70 622.53L1801.79 621.19L1802.88 619.84L1803.97 618.49L1805.05 617.15L1806.13 615.79L1807.20 614.44L1808.28 613.08L1809.35 611.73L1810.42 610.36L1811.48 609.00L1812.55 607.64L1813.61 606.27L1814.67 604.90L1815.72 603.53L1816.77 602.16L1817.82 600.78L1818.87 599.41L1819.91 598.03L1820.95 596.65L1821.99 595.26L1823.03 593.88L1824.06 592.49L1825.09 591.10L1826.12 589.71L1827.15 588.32L1828.17 586.92L1829.19 585.53L1830.21 584.13L1831.23 582.73L1832.24 581.33L1833.25 579.92L1834.26 578.52L1835.27 577.11L1836.27 575.70L1837.27 574.29L1838.27 572.87L1839.27 571.46L1840.26 570.04L1841.25 568.62L1842.24 567.20L1843.23 565.78L1844.21 564.36L1845.20 562.93L1846.18 561.50L1847.16 560.07L1848.13 558.64L1849.11 557.21L1850.08 555.78L1851.05 554.34L1852.02 552.90L1852.98 551.47L1853.95 550.03L1854.91 548.58L1855.87 547.14L1856.82 545.70L1857.78 544.25L1858.73 542.80L1859.68 541.35L1860.63 539.90L1861.58 538.45L1862.53 536.99L1863.47 535.54L1864.41 534.08L1865.35 532.62L1866.29 531.16L1867.22 529.70L1868.16 528.24L1869.09 526.77L1870.02 525.31L1870.95 523.84L1871.87 522.37L1872.80 520.90L1873.72 519.43L1874.64 517.96L1875.56 516.49L1876.48 515.01L1877.40 513.54L1878.31 512.06L1879.22 510.58L1880.14 509.10L1881.05 507.62L1881.95 506.14L1882.86 504.66L1883.76 503.17L1884.67 501.69L1885.57 500.20L1886.47 498.71L1887.37 497.22L1888.27 495.73L1889.16 494.24L1890.06 492.75L1890.95 491.26L1891.84 489.76L1892.73 488.27L1893.62 486.77L1894.51 485.27L1895.39 483.77L1896.28 482.27L1897.16 480.77L1898.04 479.27L1898.92 477.77L1899.80 476.27L1900.68 474.76L1901.56 473.26L1902.43 471.75L1903.31 470.24L1904.18 468.74L1905.05 467.23L1905.92 465.72L1906.79 464.21L1907.66 462.70L1908.53 461.18L1909.39 459.67L1910.26 458.16L1911.12 456.64L1911.99 455.13L1912.85 453.61L1913.71 452.09L1914.57 450.58L1915.43 449.06L1916.29 447.54L1917.14 446.02L1918.00 444.50L1918.86 442.98L1919.71 441.46L1920.56 439.93L1921.42 438.41L1922.27 436.89L1923.12 435.36L1923.97 433.84L1924.82 432.31L1925.67 430.79L1926.51 429.26L1927.36 427.74L1928.21 426.21L1929.05 424.68L1929.90 423.15L1930.74 421.62L1931.58 420.09L1932.43 418.56L1933.27 417.03L1934.11 415.50L1934.95 413.97L1935.79 412.44L1936.63 410.91L1937.47 409.38L1938.31 407.84L1939.15 406.31L1939.99 404.78L1940.82 403.24L1941.66 401.71L1942.49 400.18L1943.33 398.64L1944.17 397.11L1945.00 395.57L1945.84 394.04L1946.67 392.50L1947.50 390.96L1948.34 389.43L1949.17 387.89L1950.00 386.36L1950.83 384.82L1951.67 383.28L1952.50 381.75L1953.33 380.21L1954.16 378.67L1954.99 377.13L1955.82 375.60L1956.65 374.06L1957.48 372.52L1958.32 370.98L1959.15 369.45L1959.98 367.91L1960.81 366.37L1961.64 364.83L1962.47 363.30L1963.30 361.76L1964.13 360.22L1964.96 358.68L1965.79 357.15L1966.61 355.61L1967.44 354.07L1968.27 352.53L1969.10 351.00L1969.93 349.46L1970.76 347.92L1971.60 346.39L1972.43 344.85L1973.26 343.31L1974.09 341.78L1974.92 340.24L1975.75 338.70L1976.58 337.17L1977.41 335.63L1978.24 334.10L1979.08 332.56L1979.91 331.03L1980.74 329.50L1981.57 327.96L1982.41 326.43L1983.24 324.89L1984.07 323.36L1984.91 321.83L1985.74 320.30L1986.58 318.76L1987.41 317.23L1988.25 315.70L1989.09 314.17L1989.92 312.64L1990.76 311.11L1991.60 309.58L1992.44 308.05L1993.27 306.53L1994.11 305.00L1994.95 303.47L1995.79 301.94L1996.64 300.42L1997.48 298.89L1998.32 297.37L1999.16 295.84L2000.01 294.32L2000.85 292.79L2001.70 291.27L2002.54 289.75L2003.39 288.23L2004.24 286.71L2005.08 285.19L2005.93 283.67L2006.78 282.15L2007.63 280.63L2008.49 279.11L2009.34 277.60L2010.19 276.08L2011.04 274.56L2011.90 273.05L2012.76 271.54L2013.61 270.02L2014.47 268.51L2015.33 267.00L2016.19 265.49L2017.05 263.98L2017.91 262.47L2018.77 260.96L2019.64 259.46L2020.50 257.95L2021.37 256.45L2022.23 254.94L2023.10 253.44L2023.97 251.94L2024.84 250.43L2025.71 248.93L2026.59 247.44L2027.46 245.94L2028.33 244.44L2029.21 242.94L2030.09 241.45L2030.97 239.95L2031.85 238.46L2032.73 236.97L2033.61 235.48L2034.49 233.99L2035.38 232.50L2036.27 231.01L2037.15 229.52L2038.04 228.04L2038.94 226.55L2039.83 225.07L2040.72 223.59L2041.62 222.11L2042.51 220.63L2043.41 219.15L2044.31 217.67L2045.21 216.20L2046.11 214.72L2047.02 213.25L2047.92 211.78L2048.83 210.31L2049.74 208.84L2050.65 207.37L2051.56 205.90L2052.48 204.44L2053.39 202.97L2054.31 201.51L2055.23 200.05L2056.15 198.59L2057.07 197.13L2058.00 195.68L2058.92 194.22L2059.85 192.77L2060.78 191.31L2061.71 189.86L2062.64 188.41L2063.58 186.97L2064.52 185.52L2065.45 184.08" stroke="#ff0000" stroke-width="8.30" stroke-dasharray="40.7 27.8" stroke-dashoffset="67.17" stroke-linecap="round"/>
<path d="M492.57 1446.25L494.07 1446.01L495.58 1445.77L497.08 1445.53L498.58 1445.29L500.08 1445.04L501.59 1444.80L503.09 1444.56L504.59 1444.32L506.10 1444.08L507.60 1443.84L509.10 1443.60L510.61 1443.36L512.11 1443.12L513.61 1442.88L515.12 1442.64L516.62 1442.40L518.13 1442.16L519.63 1441.92L521.13 1441.68L522.64 1441.45L524.14 1441.21L525.65 1440.97L527.15 1440.73L528.66 1440.49L530.16 1440.26L531.67 1440.02L533.17 1439.78L534.68 1439.55L536.18 1439.31L537.69 1439.07L539.19 1438.84L540.70 1438.60L542.20 1438.36L543.71 1438.13L545.21 1437.89L546.72 1437.66L548.22 1437.42L549.73 1437.19L551.24 1436.95L552.74 1436.72L554.25 1436.48L555.75 1436.25L557.26 1436.01L558.76 1435.78L560.27 1435.54L561.78 1435.31L563.28 1435.07L564.79 1434.84L566.30 1434.60L567.80 1434.37L569.31 1434.13L570.82 1433.90L572.32 1433.67L573.83 1433.43L575.34 1433.20L576.84 1432.96L578.35 1432.73L579.86 1432.50L581.36 1432.26L582.87 1432.03L584.38 1431.79L585.88 1431.56L587.39 1431.33L588.90 1431.09L590.40 1430.86L591.91 1430.63L593.42 1430.39L594.93 1430.16L596.43 1429.92L597.94 1429.69L599.45 1429.46L600.95 1429.22L602.46 1428.99L603.97 1428.76L605.48 1428.52L606.98 1428.29L608.49 1428.05L610.00 1427.82L611.51 1427.59L613.01 1427.35L614.52 1427.12L616.03 1426.88L617.54 1426.65L619.04 1426.41L620.55 1426.18L622.06 1425.94L623.57 1425.71L625.07 1425.48L626.58 1425.24L628.09 1425.01L629.60 1424.77L631.10 1424.53L632.61 1424.30L634.12 1424.06L635.63 1423.83L637.13 1423.59L638.64 1423.36L640.15 1423.12L641.66 1422.88L643.16 1422.65L644.67 1422.41L646.18 1422.18L647.69 1421.94L649.19 1421.70L650.70 1421.47L652.21 1421.23L653.72 1420.99L655.22 1420.75L656.73 1420.52L658.24 1420.28L659.75 1420.04L661.25 1419.80L662.76 1419.56L664.27 1419.32L665.78 1419.08L667.28 1418.85L668.79 1418.61L670.30 1418.37L671.81 1418.13L673.31 1417.89L674.82 1417.65L676.33 1417.41L677.83 1417.17L679.34 1416.92L680.85 1416.68L682.36 1416.44L683.86 1416.20L685.37 1415.96L686.88 1415.72L688.38 1415.47L689.89 1415.23L691.40 1414.99L692.90 1414.74L694.41 1414.50L695.92 1414.26L697.42 1414.01L698.93 1413.77L700.44 1413.52L701.94 1413.28L703.45 1413.03L704.95 1412.79L706.46 1412.54L707.97 1412.29L709.47 1412.05L710.98 1411.80L712.49 1411.55L713.99 1411.30L715.50 1411.06L717.00 1410.81L718.51 1410.56L720.01 1410.31L721.52 1410.06L723.03 1409.81L724.53 1409.56L726.04 1409.31L727.54 1409.06L729.05 1408.81L730.55 1408.55L732.06 1408.30L733.56 1408.05L735.07 1407.80L736.57 1407.54L738.08 1407.29L739.58 1407.03L741.09 1406.78L742.59 1406.52L744.09 1406.27L745.60 1406.01L747.10 1405.75L748.61 1405.50L750.11 1405.24L751.62 1404.98L753.12 1404.72L754.62 1404.47L756.13 1404.21L757.63 1403.95L759.13 1403.69L760.64 1403.43L762.14 1403.16L763.64 1402.90L765.15 1402.64L766.65 1402.38L768.15 1402.11L769.66 1401.85L771.16 1401.59L772.66 1401.32L774.16 1401.06L775.67 1400.79L777.17 1400.53L778.67 1400.26L780.17 1399.99L781.67 1399.72L783.17 1399.45L784.68 1399.19L786.18 1398.92L787.68 1398.65L789.18 1398.38L790.68 1398.10L792.18 1397.83L793.68 1397.56L795.18 1397.29L796.69 1397.01L798.19 1396.74L799.69 1396.47L801.19 1396.19L802.69 1395.91L804.19 1395.64L805.69 1395.36L807.19 1395.08L808.69 1394.80L810.19 1394.53L811.68 1394.25L813.18 1393.97L814.68 1393.69L816.18 1393.40L817.68 1393.12L819.18 1392.84L820.68 1392.56L822.18 1392.27L823.67 1391.99L825.17 1391.70L826.67 1391.42L828.17 1391.13L829.66 1390.84L831.16 1390.55L832.66 1390.27L834.16 1389.98L835.65 1389.69L837.15 1389.40L838.65 1389.10L840.14 1388.81L841.64 1388.52L843.13 1388.22L844.63 1387.93L846.13 1387.64L847.62 1387.34L849.12 1387.04L850.61 1386.75L852.11 1386.45L853.60 1386.15L855.10 1385.85L856.59 1385.55L858.09 1385.25L859.58 1384.95L861.07 1384.64L862.57 1384.34L864.06 1384.04L865.56 1383.73L867.05 1383.43L868.54 1383.12L870.03 1382.81L871.53 1382.50L873.02 1382.20L874.51 1381.89L876.00 1381.58L877.50 1381.26L878.99 1380.95L880.48 1380.64L881.97 1380.33L883.46 1380.01L884.95 1379.70L886.44 1379.38L887.93 1379.06L889.42 1378.74L890.91 1378.43L892.40 1378.11L893.89 1377.79L895.38 1377.46L896.87 1377.14L898.36 1376.82L899.85 1376.50L901.34 1376.17L902.83 1375.84L904.32 1375.52L905.80 1375.19L907.29 1374.86L908.78 1374.53L910.27 1374.20L911.75 1373.87L913.24 1373.54L914.73 1373.21L916.21 1372.87L917.70 1372.54L919.19 1372.20L920.67 1371.87L922.16 1371.53L923.64 1371.19L925.13 1370.85L926.61 1370.51L928.10 1370.17L929.58 1369.83L931.07 1369.48L932.55 1369.14L934.03 1368.79L935.52 1368.45L937.00 1368.10L938.48 1367.75L939.97 1367.40L941.45 1367.05L942.93 1366.70L944.41 1366.35L945.90 1365.99L947.38 1365.64L948.86 1365.28L950.34 1364.93L951.82 1364.57L953.30 1364.21L954.78 1363.85L956.26 1363.49L957.74 1363.13L959.22 1362.77L960.70 1362.40L962.18 1362.04L963.66 1361.67L965.14 1361.31L966.61 1360.94L968.09 1360.57L969.57 1360.20L971.05 1359.83L972.52 1359.46L974.00 1359.08L975.48 1358.71L976.95 1358.33L978.43 1357.96L979.91 1357.58L981.38 1357.20L982.86 1356.82L984.33 1356.44L985.81 1356.06L987.28 1355.68L988.75 1355.29L990.23 1354.91L991.70 1354.52L993.18 1354.13L994.65 1353.75L996.12 1353.36L997.59 1352.97L999.07 1352.58L1000.54 1352.18L1002.01 1351.79L1003.48 1351.40L1004.95 1351.00L1006.42 1350.60L1007.89 1350.21L1009.36 1349.81L1010.83 1349.41L1012.30 1349.01L1013.77 1348.61L1015.24 1348.20L1016.71 1347.80L1018.18 1347.40L1019.65 1346.99L1021.12 1346.58L1022.58 1346.17L1024.05 1345.77L1025.52 1345.36L1026.99 1344.94L1028.45 1344.53L1029.92 1344.12L1031.39 1343.71L1032.85 1343.29L1034.32 1342.87L1035.78 1342.46L1037.25 1342.04L1038.71 1341.62L1040.18 1341.20L1041.64 1340.78L1043.11 1340.36L1044.57 1339.93L1046.03 1339.51L1047.50 1339.08L1048.96 1338.66L1050.42 1338.23L1051.88 1337.80L1053.35 1337.37L1054.81 1336.94L1056.27 1336.51L1057.73 1336.08L1059.19 1335.65L1060.65 1335.21L1062.11 1334.78L1063.57 1334.34L1065.03 1333.90L1066.49 1333.46L1067.95 1333.03L1069.41 1332.59L1070.87 1332.14L1072.32 1331.70L1073.78 1331.26L1075.24 1330.81L1076.70 1330.37L1078.15 1329.92L1079.61 1329.48L1081.07 1329.03L1082.52 1328.58L1083.98 1328.13L1085.44 1327.68L1086.89 1327.22L1088.35 1326.77L1089.80 1326.32L1091.26 1325.86L1092.71 1325.41L1094.16 1324.95L1095.62 1324.49L1097.07 1324.03L1098.52 1323.57L1099.98 1323.11L1101.43 1322.65L1102.88 1322.19L1104.33 1321.72L1105.78 1321.26L1107.23 1320.79L1108.69 1320.33L1110.14 1319.86L1111.59 1319.39L1113.04 1318.92L1114.49 1318.45L1115.94 1317.98L1117.38 1317.50L1118.83 1317.03L1120.28 1316.56L1121.73 1316.08L1123.18 1315.61L1124.63 1315.13L1126.07 1314.65L1127.52 1314.17L1128.97 1313.69L1130.41 1313.21L1131.86 1312.73L1133.31 1312.24L1134.75 1311.76L1136.20 1311.28L1137.64 1310.79L1139.09 1310.30L1140.53 1309.81L1141.97 1309.33L1143.42 1308.84L1144.86 1308.35L1146.30 1307.85L1147.75 1307.36L1149.19 1306.87L1150.63 1306.37L1152.07 1305.88L1153.51 1305.38L1154.96 1304.89L1156.40 1304.39L1157.84 1303.89L1159.28 1303.39L1160.72 1302.89L1162.16 1302.39L1163.60 1301.88L1165.04 1301.38L1166.47 1300.88L1167.91 1300.37L1169.35 1299.86L1170.79 1299.36L1172.23 1298.85L1173.66 1298.34L1175.10 1297.83L1176.54 1297.32L1177.97 1296.81L1179.41 1296.29L1180.84 1295.78L1182.28 1295.27L1183.72 1294.75L1185.15 1294.23L1186.58 1293.72L1188.02 1293.20L1189.45 1292.68L1190.89 1292.16L1192.32 1291.64L1193.75 1291.12L1195.18 1290.59L1196.62 1290.07L1198.05 1289.55L1199.48 1289.02L1200.91 1288.49L1202.34 1287.97L1203.77 1287.44L1205.20 1286.91L1206.63 1286.38L1208.06 1285.85L1209.49 1285.32L1210.92 1284.79L1212.35 1284.25L1213.78 1283.72L1215.21 1283.18L1216.63 1282.65L1218.06 1282.11L1219.49 1281.57L1220.91 1281.03L1222.34 1280.49L1223.77 1279.95L1225.19 1279.41L1226.62 1278.87L1228.04 1278.33L1229.47 1277.78L1230.89 1277.24L1232.32 1276.69L1233.74 1276.15L1235.16 1275.60L1236.59 1275.05L1238.01 1274.50L1239.43 1273.95L1240.85 1273.40L1242.28 1272.85L1243.70 1272.30L1245.12 1271.74L1246.54 1271.19L1247.96 1270.63L1249.38 1270.08L1250.80 1269.52L1252.22 1268.96L1253.64 1268.40L1255.06 1267.84L1256.48 1267.28L1257.89 1266.72L1259.31 1266.16L1260.73 1265.60L1262.15 1265.03L1263.56 1264.47L1264.98 1263.90L1266.40 1263.34L1267.81 1262.77L1269.23 1262.20L1270.64 1261.63L1272.06 1261.06L1273.47 1260.49L1274.89 1259.92L1276.30 1259.35L1277.71 1258.78L1279.13 1258.20L1280.54 1257.63L1281.95 1257.05L1283.37 1256.48L1284.78 1255.90L1286.19 1255.32L1287.60 1254.74L1289.01 1254.16L1290.42 1253.58L1291.83 1253.00L1293.24 1252.42L1294.65 1251.84L1296.06 1251.25L1297.47 1250.67L1298.88 1250.08L1300.29 1249.49L1301.69 1248.91L1303.10 1248.32L1304.51 1247.73L1305.91 1247.14L1307.32 1246.55L1308.73 1245.96L1310.13 1245.36L1311.54 1244.77L1312.94 1244.18L1314.35 1243.58L1315.75 1242.99L1317.15 1242.39L1318.56 1241.79L1319.96 1241.19L1321.36 1240.59L1322.76 1239.99L1324.17 1239.39L1325.57 1238.79L1326.97 1238.19L1328.37 1237.58L1329.77 1236.98L1331.17 1236.37L1332.57 1235.77L1333.97 1235.16L1335.37 1234.55L1336.77 1233.94L1338.16 1233.33L1339.56 1232.72L1340.96 1232.11L1342.36 1231.50L1343.75 1230.88L1345.15 1230.27L1346.54 1229.65L1347.94 1229.04L1349.33 1228.42L1350.73 1227.80L1352.12 1227.18L1353.52 1226.56L1354.91 1225.94L1356.30 1225.32L1357.70 1224.70L1359.09 1224.07L1360.48 1223.45L1361.87 1222.82L1363.26 1222.20L1364.65 1221.57L1366.04 1220.94L1367.43 1220.31L1368.82 1219.68L1370.21 1219.05L1371.60 1218.42L1372.99 1217.79L1374.37 1217.15L1375.76 1216.52L1377.15 1215.88L1378.53 1215.25L1379.92 1214.61L1381.30 1213.97L1382.69 1213.33L1384.07 1212.69L1385.46 1212.05L1386.84 1211.41L1388.23 1210.76L1389.61 1210.12L1390.99 1209.47L1392.37 1208.83L1393.75 1208.18L1395.13 1207.53L1396.52 1206.89L1397.90 1206.24L1399.28 1205.59L1400.66 1204.93L1402.03 1204.28L1403.41 1203.63L1404.79 1202.97L1406.17 1202.32L1407.55 1201.66L1408.92 1201.00L1410.30 1200.35L1411.67 1199.69L1413.05 1199.03L1414.42 1198.37L1415.80 1197.70L1417.17 1197.04L1418.55 1196.38L1419.92 1195.71L1421.29 1195.04L1422.66 1194.38L1424.04 1193.71L1425.41 1193.04L1426.78 1192.37L1428.15 1191.70L1429.52 1191.03L1430.89 1190.36L1432.26 1189.68L1433.62 1189.01L1434.99 1188.33L1436.36 1187.65L1437.73 1186.98L1439.09 1186.30L1440.46 1185.62L1441.82 1184.94L1443.19 1184.25L1444.55 1183.57L1445.92 1182.89L1447.28 1182.20L1448.64 1181.52L1450.01 1180.83L1451.37 1180.14L1452.73 1179.45L1454.09 1178.76L1455.45 1178.07L1456.81 1177.38L1458.17 1176.69L1459.53 1175.99L1460.89 1175.30L1462.25 1174.60L1463.61 1173.91L1464.96 1173.21L1466.32 1172.51L1467.68 1171.81L1469.03 1171.11L1470.39 1170.41L1471.74 1169.70L1473.10 1169.00L1474.45 1168.30L1475.80 1167.59L1477.16 1166.88L1478.51 1166.17L1479.86 1165.46L1481.21 1164.75L1482.56 1164.04L1483.91 1163.33L1485.26 1162.62L1486.61 1161.90L1487.96 1161.19L1489.31 1160.47L1490.65 1159.75L1492.00 1159.04L1493.35 1158.32L1494.69 1157.60L1496.04 1156.87L1497.38 1156.15L1498.73 1155.43L1500.07 1154.70L1501.41 1153.98L1502.76 1153.25L1504.10 1152.52L1505.44 1151.79L1506.78 1151.06L1508.12 1150.33L1509.46 1149.60L1510.80 1148.87L1512.14 1148.13L1513.48 1147.40L1514.82 1146.66L1516.15 1145.92L1517.49 1145.18L1518.83 1144.44L1520.16 1143.70L1521.50 1142.96L1522.83 1142.22L1524.17 1141.47L1525.50 1140.73L1526.83 1139.98L1528.17 1139.24L1529.50 1138.49L1530.83 1137.74L1532.16 1136.99L1533.49 1136.24L1534.82 1135.48L1536.15 1134.73L1537.47 1133.97L1538.80 1133.22L1540.13 1132.46L1541.45 1131.70L1542.78 1130.94L1544.10 1130.18L1545.43 1129.42L1546.75 1128.66L1548.08 1127.89L1549.40 1127.13L1550.72 1126.36L1552.04 1125.60L1553.36 1124.83L1554.68 1124.06L1556.00 1123.29L1557.32 1122.52L1558.64 1121.74L1559.95 1120.97L1561.27 1120.20L1562.59 1119.42L1563.90 1118.64L1565.22 1117.86L1566.53 1117.08L1567.84 1116.30L1569.15 1115.52L1570.47 1114.74L1571.78 1113.96L1573.09 1113.17L1574.40 1112.38L1575.71 1111.60L1577.01 1110.81L1578.32 1110.02L1579.63 1109.23L1580.94 1108.43L1582.24 1107.64L1583.55 1106.85L1584.85 1106.05L1586.15 1105.25L1587.46 1104.46L1588.76 1103.66L1590.06 1102.86L1591.36 1102.06L1592.66 1101.25L1593.96 1100.45L1595.25 1099.65L1596.55 1098.84L1597.85 1098.03L1599.14 1097.22L1600.44 1096.41L1601.73 1095.60L1603.03 1094.79L1604.32 1093.98L1605.61 1093.16L1606.90 1092.35L1608.19 1091.53L1609.48 1090.71L1610.77 1089.90L1612.06 1089.07L1613.35 1088.25L1614.63 1087.43L1615.92 1086.61L1617.20 1085.78L1618.49 1084.96L1619.77 1084.13L1621.05 1083.30L1622.33 1082.47L1623.61 1081.64L1624.89 1080.81L1626.17 1079.97L1627.45 1079.14L1628.73 1078.30L1630.00 1077.47L1631.28 1076.63L1632.55 1075.79L1633.83 1074.95L1635.10 1074.10L1636.37 1073.26L1637.64 1072.42L1638.91 1071.57L1640.18 1070.72L1641.45 1069.88L1642.72 1069.03L1643.99 1068.18L1645.25 1067.32L1646.52 1066.47L1647.78 1065.62L1649.05 1064.76L1650.31 1063.91L1651.57 1063.05L1652.83 1062.19L1654.09 1061.33L1655.35 1060.47L1656.61 1059.60L1657.86 1058.74L1659.12 1057.87L1660.38 1057.01L1661.63 1056.14L1662.88 1055.27L1664.14 1054.40L1665.39 1053.53L1666.64 1052.65L1667.89 1051.78L1669.14 1050.90L1670.38 1050.03L1671.63 1049.15L1672.88 1048.27L1674.12 1047.39L1675.36 1046.51L1676.61 1045.62L1677.85 1044.74L1679.09 1043.85L1680.33 1042.96L1681.57 1042.08L1682.81 1041.19L1684.04 1040.30L1685.28 1039.40L1686.52 1038.51L1687.75 1037.61L1688.98 1036.72L1690.21 1035.82L1691.45 1034.92L1692.68 1034.02L1693.90 1033.12L1695.13 1032.22L1696.36 1031.31L1697.59 1030.41L1698.81 1029.50L1700.03 1028.59L1701.26 1027.69L1702.48 1026.77L1703.70 1025.86L1704.92 1024.95L1706.14 1024.04L1707.36 1023.12L1708.57 1022.20L1709.79 1021.28L1711.00 1020.36L1712.22 1019.44L1713.43 1018.52L1714.64 1017.60L1715.85 1016.67L1717.06 1015.75L1718.27 1014.82L1719.47 1013.89L1720.68 1012.96L1721.88 1012.03L1723.09 1011.09L1724.29 1010.16L1725.49 1009.22L1726.69 1008.29L1727.89 1007.35L1729.09 1006.41L1730.29 1005.47L1731.48 1004.52L1732.68 1003.58L1733.87 1002.63L1735.06 1001.69L1736.26 1000.74L1737.45 999.79L1738.64 998.84L1739.82 997.89L1741.01 996.93L1742.20 995.98L1743.38 995.02L1744.56 994.07L1745.75 993.11L1746.93 992.15L1748.11 991.19L1749.29 990.22L1750.46 989.26L1751.64 988.29L1752.82 987.32L1753.99 986.36L1755.16 985.39L1756.33 984.41L1757.50 983.44L1758.67 982.47L1759.84 981.49L1761.01 980.52L1762.17 979.54L1763.34 978.56L1764.50 977.58L1765.66 976.59L1766.83 975.61L1767.99 974.62L1769.14 973.64L1770.30 972.65L1771.46 971.66L1772.61 970.67L1773.77 969.68L1774.92 968.68L1776.07 967.69L1777.22 966.69L1778.37 965.69L1779.51 964.69L1780.66 963.69L1781.81 962.69L1782.95 961.69L1784.09 960.68L1785.23 959.67L1786.37 958.67L1787.51 957.66L1788.65 956.65L1789.78 955.63L1790.92 954.62L1792.05 953.60L1793.18 952.59L1794.31 951.57L1795.44 950.55L1796.57 949.53L1797.70 948.51L1798.82 947.48L1799.95 946.46L1801.07 945.43L1802.19 944.40L1803.31 943.37L1804.43 942.34L1805.55 941.31L1806.67 940.27L1807.78 939.24L1808.90 938.20L1810.01 937.16L1811.12 936.13L1812.23 935.08L1813.34 934.04L1814.45 933.00L1815.55 931.95L1816.66 930.91L1817.76 929.86L1818.87 928.81L1819.97 927.76L1821.07 926.71L1822.17 925.66L1823.26 924.60L1824.36 923.55L1825.46 922.49L1826.55 921.43L1827.64 920.37L1828.74 919.31L1829.83 918.25L1830.92 917.18L1832.00 916.12L1833.09 915.05L1834.18 913.99L1835.26 912.92L1836.35 911.85L1837.43 910.78L1838.51 909.71L1839.59 908.63L1840.67 907.56L1841.75 906.48L1842.82 905.40L1843.90 904.33L1844.97 903.25L1846.05 902.17L1847.12 901.08L1848.19 900.00L1849.26 898.92L1850.33 897.83L1851.40 896.75L1852.46 895.66L1853.53 894.57L1854.60 893.48L1855.66 892.39L1856.72 891.30L1857.78 890.20L1858.84 889.11L1859.90 888.01L1860.96 886.92L1862.02 885.82L1863.07 884.72L1864.13 883.62L1865.18 882.52L1866.24 881.42L1867.29 880.31L1868.34 879.21L1869.39 878.10L1870.44 877.00L1871.49 875.89L1872.53 874.78L1873.58 873.67L1874.62 872.56L1875.67 871.45L1876.71 870.34L1877.75 869.22L1878.79 868.11L1879.83 866.99L1880.87 865.88L1881.91 864.76L1882.95 863.64L1883.99 862.52L1885.02 861.40L1886.05 860.28L1887.09 859.16L1888.12 858.04L1889.15 856.91L1890.18 855.79L1891.21 854.66L1892.24 853.53L1893.27 852.40L1894.30 851.28L1895.32 850.15L1896.35 849.02L1897.37 847.88L1898.39 846.75L1899.42 845.62L1900.44 844.48L1901.46 843.35L1902.48 842.21L1903.50 841.08L1904.51 839.94L1905.53 838.80L1906.55 837.66L1907.56 836.52L1908.58 835.38L1909.59 834.24L1910.60 833.09L1911.62 831.95L1912.63 830.81L1913.64 829.66L1914.65 828.51L1915.66 827.37L1916.66 826.22L1917.67 825.07L1918.68 823.92L1919.68 822.77L1920.69 821.62L1921.69 820.47L1922.69 819.32L1923.70 818.17L1924.70 817.01L1925.70 815.86L1926.70 814.70L1927.70 813.55L1928.70 812.39L1929.69 811.23L1930.69 810.08L1931.69 808.92L1932.68 807.76L1933.68 806.60L1934.67 805.44L1935.66 804.28L1936.66 803.12L1937.65 801.95L1938.64 800.79L1939.63 799.63L1940.62 798.46L1941.61 797.30L1942.60 796.13L1943.58 794.96L1944.57 793.80L1945.56 792.63L1946.54 791.46L1947.53 790.29L1948.51 789.12L1949.50 787.95L1950.48 786.78L1951.46 785.61L1952.44 784.44L1953.42 783.27L1954.40 782.10L1955.38 780.92L1956.36 779.75L1957.34 778.57L1958.32 777.40L1959.29 776.22L1960.27 775.05L1961.25 773.87L1962.22 772.69L1963.20 771.52L1964.17 770.34L1965.14 769.16L1966.12 767.98L1967.09 766.80L1968.06 765.62L1969.03 764.44L1970.00 763.26L1970.97 762.08L1971.94 760.90L1972.91 759.72L1973.88 758.53L1974.84 757.35L1975.81 756.17L1976.78 754.98L1977.74 753.80L1978.71 752.61L1979.67 751.43L1980.64 750.24L1981.60 749.06L1982.57 747.87L1983.53 746.68L1984.49 745.50L1985.45 744.31L1986.41 743.12L1987.37 741.93L1988.33 740.75L1989.29 739.56L1990.25 738.37L1991.21 737.18L1992.17 735.99L1993.13 734.80L1994.09 733.61L1995.04 732.42L1996.00 731.23L1996.96 730.04L1997.91 728.85L1998.87 727.65L1999.82 726.46L2000.77 725.27L2001.73 724.08L2002.68 722.88L2003.64 721.69L2004.59 720.50L2005.54 719.30L2006.49 718.11L2007.44 716.92L2008.39 715.72L2009.34 714.53L2010.29 713.33L2011.24 712.14L2012.19 710.94L2013.14 709.75L2014.09 708.55L2015.04 707.36L2015.99 706.16L2016.94 704.97L2017.88 703.77L2018.83 702.57L2019.78 701.38L2020.72 700.18L2021.67 698.98L2022.61 697.79L2023.56 696.59L2024.50 695.39L2025.45 694.20L2026.39 693.00L2027.34 691.80L2028.28 690.60L2029.22 689.41L2030.17 688.21L2031.11 687.01L2032.05 685.81L2032.99 684.62L2033.93 683.42L2034.88 682.22L2035.82 681.02L2036.76 679.83L2037.70 678.63L2038.64 677.43L2039.58 676.23L2040.52 675.03L2041.46 673.84L2042.40 672.64L2043.34 671.44L2044.28 670.24L2045.22 669.04L2046.15 667.85L2047.09 666.65L2048.03 665.45L2048.97 664.25L2049.91 663.05L2050.84 661.86L2051.78 660.66L2052.72 659.46L2053.66 658.26L2054.59 657.07L2055.53 655.87L2056.47 654.67L2057.40 653.47L2058.34 652.28L2059.27 651.08L2060.21 649.88L2061.15 648.69L2062.08 647.49L2063.02 646.29L2063.95 645.10L2064.89 643.90L2065.82 642.70L2066.76 641.51L2067.69 640.31" stroke="#000000" stroke-width="8.20" stroke-linecap="butt" stroke-linejoin="round"/>
</g>
<text><tspan x="303.52" y="109.00" style="font-size:80.00px;font-weight:bold;font-style:normal;letter-spacing:3.38px">8.0</tspan></text>
<text><tspan x="304.30" y="308.00" style="font-size:80.00px;font-weight:bold;font-style:normal;letter-spacing:2.99px">7.0</tspan></text>
<text><tspan x="304.38" y="507.50" style="font-size:80.00px;font-weight:bold;font-style:normal;letter-spacing:2.95px">6.0</tspan></text>
<text><tspan x="305.70" y="713.00" style="font-size:80.00px;font-weight:bold;font-style:normal;letter-spacing:2.29px">5.0</tspan></text>
<text><tspan x="305.91" y="911.90" style="font-size:80.00px;font-weight:bold;font-style:normal;letter-spacing:2.18px">4.0</tspan></text>
<text><tspan x="304.03" y="1111.90" style="font-size:80.00px;font-weight:bold;font-style:normal;letter-spacing:3.12px">3.0</tspan></text>
<text><tspan x="304.30" y="1310.90" style="font-size:80.00px;font-weight:bold;font-style:normal;letter-spacing:2.99px">2.0</tspan></text>
<text><tspan x="303.95" y="1516.50" style="font-size:80.00px;font-weight:bold;font-style:normal;letter-spacing:3.17px">1.0</tspan></text>
<text><tspan x="434.51" y="1635.30" style="font-size:92.00px;font-weight:bold;font-style:normal;letter-spacing:-1.24px">0.1</tspan></text>
<text><tspan x="1221.65" y="1635.30" style="font-size:92.00px;font-weight:bold;font-style:normal;letter-spacing:-1.79px">1.0</tspan></text>
<text><tspan x="1989.75" y="1635.30" style="font-size:92.00px;font-weight:bold;font-style:normal;letter-spacing:-2.04px">10.0</tspan></text>
<text><tspan x="464.89" y="1809.60" style="font-size:90.00px;font-weight:bold;font-style:normal;letter-spacing:2.17px">Maximum</tspan><tspan x="871.97" y="1809.60" style="font-size:90.00px;font-weight:bold;font-style:normal;letter-spacing:1.02px">reaction</tspan><tspan x="1226.97" y="1809.60" style="font-size:90.00px;font-weight:bold;font-style:normal;letter-spacing:0.71px">rate,</tspan><tspan x="1427.64" y="1809.60" style="font-size:90.00px;font-weight:bold;font-style:italic">v</tspan><tspan x="1469.36" y="1829.00" style="font-size:61.00px;font-weight:bold;font-style:italic;letter-spacing:0.32px">max</tspan><tspan x="1627.31" y="1809.60" style="font-size:90.00px;font-weight:bold;font-style:italic">C</tspan><tspan x="1675.95" y="1786.50" style="font-size:61.00px;font-weight:bold;font-style:normal">o</tspan><tspan x="1702.91" y="1809.60" style="font-size:90.00px;font-weight:bold;font-style:normal">,</tspan><tspan x="1744.48" y="1809.60" style="font-size:90.00px;font-weight:bold;font-style:normal">1</tspan><tspan x="1825.56" y="1809.60" style="font-size:90.00px;font-weight:bold;font-style:normal;letter-spacing:2.23px">s,-</tspan></text>
<text transform="translate(1582.36 1817.32) scale(1.0731 1.1931)" style="font-size:90.00px;font-weight:bold;font-style:italic;stroke:#000;stroke-width:2.65px;stroke-linejoin:round">/</text>
<text transform="translate(1789.53 1818.13) scale(0.9246 1.1928)" style="font-size:90.00px;font-weight:bold;font-style:normal;stroke:#000;stroke-width:1.89px;stroke-linejoin:round">/</text>
<text transform="rotate(-90)"><tspan x="-1171.59" y="137.00" style="font-size:90.00px;font-weight:bold;font-style:normal;letter-spacing:2.29px">Enhancement,</tspan><tspan x="-597.69" y="137.00" style="font-size:90.00px;font-weight:bold;font-style:italic">J</tspan><tspan x="-524.99" y="137.00" style="font-size:90.00px;font-weight:bold;font-style:italic">J</tspan><tspan x="-482.75" y="115.20" style="font-size:61.00px;font-weight:bold;font-style:normal">o</tspan><tspan x="-455.39" y="137.00" style="font-size:90.00px;font-weight:bold;font-style:normal;letter-spacing:1.41px">,-</tspan></text>
<text transform="rotate(-90) translate(-563.13 143.38) scale(1.0981 1.1780)" style="font-size:90.00px;font-weight:bold;font-style:italic;stroke:#000;stroke-width:2.64px;stroke-linejoin:round">/</text>
<text><tspan x="769.01" y="236.00" style="font-size:90.00px;font-weight:bold;font-style:italic">P</tspan><tspan x="819.55" y="236.00" style="font-size:90.00px;font-weight:bold;font-style:italic">e</tspan><tspan x="862.15" y="255.30" style="font-size:61.00px;font-weight:bold;font-style:normal">o</tspan><tspan x="893.63" y="236.00" style="font-size:90.00px;font-weight:bold;font-style:normal">=</tspan><tspan x="943.85" y="237.50" style="font-size:90.00px;font-weight:bold;font-style:normal">0</tspan></text>
<text><tspan x="785.33" y="379.50" style="font-size:90.00px;font-weight:bold;font-style:normal">=</tspan><tspan x="835.36" y="379.50" style="font-size:90.00px;font-weight:bold;font-style:normal">3</tspan><tspan x="879.75" y="379.50" style="font-size:90.00px;font-weight:bold;font-style:normal">0</tspan><tspan x="922.15" y="379.50" style="font-size:90.00px;font-weight:bold;font-style:normal">0</tspan><tspan x="1040.88" y="379.50" style="font-size:90.00px;font-weight:bold;font-style:normal">m</tspan></text>
<text transform="translate(733.11 380.42) scale(1.0423 1.1089)" style="font-size:90.00px;font-weight:bold;font-style:normal">δ</text>
<text transform="translate(975.77 384.08) scale(1.1533 1.1248)" style="font-size:90.00px;font-weight:bold;font-style:normal">µ</text>
<text><tspan x="735.56" y="525.50" style="font-size:90.00px;font-weight:bold;font-style:italic">K</tspan><tspan x="784.62" y="544.60" style="font-size:61.00px;font-weight:bold;font-style:italic">M</tspan><tspan x="886.91" y="525.50" style="font-size:90.00px;font-weight:bold;font-style:italic">C</tspan><tspan x="935.45" y="501.50" style="font-size:61.00px;font-weight:bold;font-style:normal">o</tspan><tspan x="966.13" y="525.50" style="font-size:90.00px;font-weight:bold;font-style:normal">=</tspan><tspan x="1016.68" y="525.50" style="font-size:90.00px;font-weight:bold;font-style:normal">1</tspan></text>
<text transform="translate(841.53 533.22) scale(1.0877 1.1931)" style="font-size:90.00px;font-weight:bold;font-style:italic;stroke:#000;stroke-width:2.63px;stroke-linejoin:round">/</text>
<text transform="translate(1152.50 829.10) rotate(-52.80)"><tspan x="0.00" y="0.00" style="font-size:90.00px;font-weight:bold;font-style:normal;letter-spacing:3.63px">r</tspan><tspan x="35.62" y="19.30" style="font-size:61.00px;font-weight:bold;font-style:normal;letter-spacing:3.63px">o</tspan><tspan x="72.05" y="0.00" style="font-size:90.00px;font-weight:bold;font-style:normal;letter-spacing:3.63px">=1000 µm</tspan></text>
<text transform="translate(1696.80 326.30) rotate(-63.71)"><tspan x="0.00" y="0.00" style="font-size:88.00px;font-weight:bold;font-style:normal;letter-spacing:-0.17px">500</tspan></text>
<text transform="translate(1728.20 460.70) rotate(-50.26)"><tspan x="0.00" y="0.00" style="font-size:88.00px;font-weight:bold;font-style:normal;letter-spacing:1.56px">300</tspan></text>
<text transform="translate(1880.50 452.60) rotate(-59.87)"><tspan x="0.00" y="0.00" style="font-size:88.00px;font-weight:bold;font-style:normal;letter-spacing:0.77px">200</tspan></text>
<text transform="translate(1849.90 837.10) rotate(-52.30)"><tspan x="0.00" y="0.00" style="font-size:88.00px;font-weight:bold;font-style:normal;letter-spacing:3.55px">100</tspan></text>
</svg></body></html>
